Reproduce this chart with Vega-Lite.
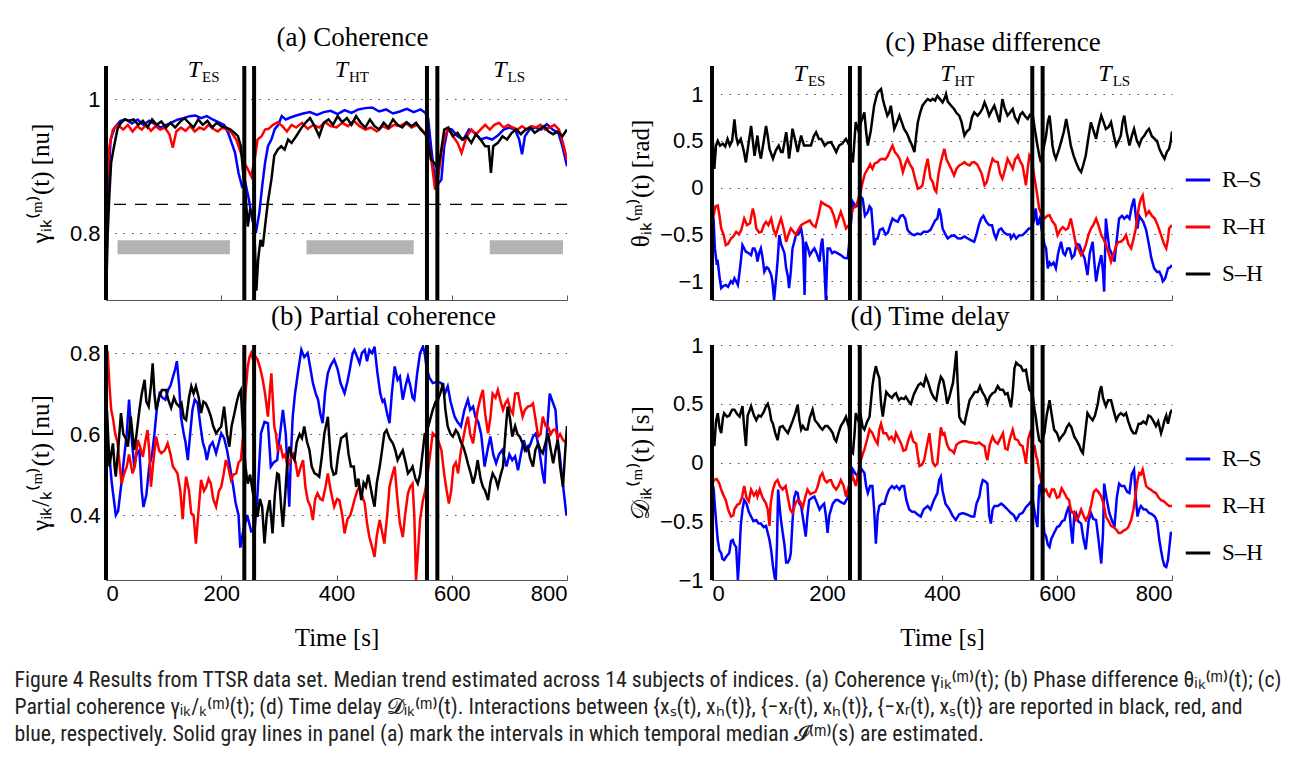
{
"$schema":"https://vega.github.io/schema/vega-lite/v6.json",
"background":"white",
"padding":{"left":14,"top":24,"right":4,"bottom":4},
"config":{
 "view":{"stroke":null},
 "axis":{"labelFont":"Liberation Sans","labelFontSize":22,"labelColor":"#000","titleFont":"Liberation Serif","titleFontSize":25,"titleFontWeight":"normal","titleColor":"#000","domainColor":"#555","tickColor":"#555"},
 "title":{"font":"Liberation Serif","fontSize":27,"fontWeight":"normal","color":"#000"}
},
"title":{"text":[
 "Figure 4 Results from TTSR data set. Median trend estimated across 14 subjects of indices. (a) Coherence γᵢₖ⁽ᵐ⁾(t); (b) Phase difference θᵢₖ⁽ᵐ⁾(t); (c)",
 "Partial coherence γᵢₖ/ₖ⁽ᵐ⁾(t); (d) Time delay 𝓓ᵢₖ⁽ᵐ⁾(t). Interactions between {xₛ(t), xₕ(t)}, {−xᵣ(t), xₕ(t)}, {−xᵣ(t), xₛ(t)} are reported in black, red, and",
 "blue, respectively. Solid gray lines in panel (a) mark the intervals in which temporal median 𝓘⁽ᵐ⁾(s) are estimated."],
 "orient":"bottom","anchor":"start","frame":"bounds","font":"Liberation Sans Narrow, Roboto Condensed, Liberation Sans","fontSize":21.8,"fontWeight":"normal","lineHeight":27,"offset":20,"dx":-14,"color":"#222"},
"datasets":{
"V":[{"t":0},{"t":240},{"t":257},{"t":557},{"t":575}],
"bars":[{"t":20,"t2":215},{"t":348,"t2":534},{"t":666,"t2":793}],
"T":[{"t":165,"lab":"ES"},{"t":420,"lab":"HT"},{"t":695,"lab":"LS"}],
"A":[
{"t":0,"s":"b","v":0.70},{"t":3,"s":"b","v":0.86},{"t":8,"s":"b","v":0.94},{"t":15,"s":"b","v":0.958},{"t":25,"s":"b","v":0.968},{"t":35,"s":"b","v":0.97},{"t":45,"s":"b","v":0.964},{"t":55,"s":"b","v":0.97},{"t":65,"s":"b","v":0.962},{"t":75,"s":"b","v":0.968},{"t":85,"s":"b","v":0.963},{"t":95,"s":"b","v":0.958},{"t":105,"s":"b","v":0.962},{"t":115,"s":"b","v":0.966},{"t":125,"s":"b","v":0.97},{"t":135,"s":"b","v":0.972},{"t":145,"s":"b","v":0.975},{"t":155,"s":"b","v":0.976},{"t":165,"s":"b","v":0.972},{"t":175,"s":"b","v":0.975},{"t":185,"s":"b","v":0.97},{"t":195,"s":"b","v":0.966},{"t":205,"s":"b","v":0.962},{"t":212,"s":"b","v":0.95},{"t":218,"s":"b","v":0.935},{"t":224,"s":"b","v":0.92},{"t":230,"s":"b","v":0.89},{"t":236,"s":"b","v":0.87},{"t":242,"s":"b","v":0.875},{"t":248,"s":"b","v":0.85},{"t":254,"s":"b","v":0.82},{"t":260,"s":"b","v":0.80},{"t":266,"s":"b","v":0.83},{"t":271,"s":"b","v":0.87},{"t":276,"s":"b","v":0.905},{"t":281,"s":"b","v":0.93},{"t":287,"s":"b","v":0.94},{"t":293,"s":"b","v":0.956},{"t":299,"s":"b","v":0.962},{"t":305,"s":"b","v":0.975},{"t":312,"s":"b","v":0.97},{"t":320,"s":"b","v":0.973},{"t":330,"s":"b","v":0.976},{"t":342,"s":"b","v":0.979},{"t":354,"s":"b","v":0.981},{"t":366,"s":"b","v":0.977},{"t":378,"s":"b","v":0.981},{"t":390,"s":"b","v":0.983},{"t":402,"s":"b","v":0.978},{"t":414,"s":"b","v":0.984},{"t":426,"s":"b","v":0.98},{"t":438,"s":"b","v":0.985},{"t":450,"s":"b","v":0.987},{"t":462,"s":"b","v":0.988},{"t":474,"s":"b","v":0.982},{"t":486,"s":"b","v":0.985},{"t":498,"s":"b","v":0.979},{"t":510,"s":"b","v":0.982},{"t":522,"s":"b","v":0.986},{"t":534,"s":"b","v":0.981},{"t":546,"s":"b","v":0.985},{"t":554,"s":"b","v":0.98},{"t":559,"s":"b","v":0.972},{"t":564,"s":"b","v":0.93},{"t":570,"s":"b","v":0.885},{"t":576,"s":"b","v":0.873},{"t":582,"s":"b","v":0.88},{"t":587,"s":"b","v":0.93},{"t":593,"s":"b","v":0.956},{"t":600,"s":"b","v":0.955},{"t":610,"s":"b","v":0.945},{"t":620,"s":"b","v":0.94},{"t":630,"s":"b","v":0.955},{"t":640,"s":"b","v":0.95},{"t":650,"s":"b","v":0.94},{"t":660,"s":"b","v":0.943},{"t":670,"s":"b","v":0.94},{"t":680,"s":"b","v":0.946},{"t":690,"s":"b","v":0.955},{"t":700,"s":"b","v":0.958},{"t":710,"s":"b","v":0.955},{"t":717,"s":"b","v":0.94},{"t":722,"s":"b","v":0.918},{"t":727,"s":"b","v":0.945},{"t":735,"s":"b","v":0.955},{"t":745,"s":"b","v":0.958},{"t":755,"s":"b","v":0.955},{"t":765,"s":"b","v":0.963},{"t":775,"s":"b","v":0.955},{"t":785,"s":"b","v":0.95},{"t":792,"s":"b","v":0.93},{"t":800,"s":"b","v":0.90},
{"t":0,"s":"r","v":0.70},{"t":2,"s":"r","v":0.88},{"t":6,"s":"r","v":0.93},{"t":12,"s":"r","v":0.955},{"t":20,"s":"r","v":0.962},{"t":30,"s":"r","v":0.955},{"t":38,"s":"r","v":0.962},{"t":46,"s":"r","v":0.952},{"t":54,"s":"r","v":0.96},{"t":62,"s":"r","v":0.955},{"t":70,"s":"r","v":0.962},{"t":78,"s":"r","v":0.953},{"t":86,"s":"r","v":0.96},{"t":94,"s":"r","v":0.955},{"t":102,"s":"r","v":0.958},{"t":110,"s":"r","v":0.948},{"t":116,"s":"r","v":0.928},{"t":122,"s":"r","v":0.952},{"t":130,"s":"r","v":0.958},{"t":138,"s":"r","v":0.953},{"t":146,"s":"r","v":0.96},{"t":154,"s":"r","v":0.952},{"t":162,"s":"r","v":0.958},{"t":170,"s":"r","v":0.955},{"t":178,"s":"r","v":0.962},{"t":186,"s":"r","v":0.956},{"t":194,"s":"r","v":0.952},{"t":202,"s":"r","v":0.958},{"t":210,"s":"r","v":0.955},{"t":218,"s":"r","v":0.95},{"t":226,"s":"r","v":0.94},{"t":234,"s":"r","v":0.92},{"t":240,"s":"r","v":0.905},{"t":246,"s":"r","v":0.896},{"t":252,"s":"r","v":0.885},{"t":258,"s":"r","v":0.91},{"t":263,"s":"r","v":0.94},{"t":270,"s":"r","v":0.945},{"t":276,"s":"r","v":0.955},{"t":282,"s":"r","v":0.956},{"t":290,"s":"r","v":0.962},{"t":298,"s":"r","v":0.966},{"t":306,"s":"r","v":0.96},{"t":314,"s":"r","v":0.952},{"t":322,"s":"r","v":0.962},{"t":330,"s":"r","v":0.958},{"t":340,"s":"r","v":0.965},{"t":350,"s":"r","v":0.956},{"t":360,"s":"r","v":0.962},{"t":370,"s":"r","v":0.958},{"t":380,"s":"r","v":0.966},{"t":390,"s":"r","v":0.96},{"t":400,"s":"r","v":0.958},{"t":410,"s":"r","v":0.965},{"t":420,"s":"r","v":0.96},{"t":430,"s":"r","v":0.968},{"t":440,"s":"r","v":0.96},{"t":450,"s":"r","v":0.955},{"t":460,"s":"r","v":0.958},{"t":470,"s":"r","v":0.952},{"t":480,"s":"r","v":0.96},{"t":490,"s":"r","v":0.956},{"t":500,"s":"r","v":0.962},{"t":510,"s":"r","v":0.96},{"t":520,"s":"r","v":0.965},{"t":530,"s":"r","v":0.958},{"t":540,"s":"r","v":0.962},{"t":548,"s":"r","v":0.955},{"t":554,"s":"r","v":0.948},{"t":560,"s":"r","v":0.935},{"t":566,"s":"r","v":0.9},{"t":571,"s":"r","v":0.865},{"t":576,"s":"r","v":0.88},{"t":582,"s":"r","v":0.92},{"t":588,"s":"r","v":0.945},{"t":594,"s":"r","v":0.956},{"t":602,"s":"r","v":0.945},{"t":610,"s":"r","v":0.935},{"t":617,"s":"r","v":0.92},{"t":626,"s":"r","v":0.945},{"t":634,"s":"r","v":0.955},{"t":642,"s":"r","v":0.948},{"t":650,"s":"r","v":0.955},{"t":658,"s":"r","v":0.962},{"t":666,"s":"r","v":0.955},{"t":674,"s":"r","v":0.962},{"t":682,"s":"r","v":0.965},{"t":690,"s":"r","v":0.958},{"t":698,"s":"r","v":0.962},{"t":706,"s":"r","v":0.958},{"t":714,"s":"r","v":0.955},{"t":722,"s":"r","v":0.96},{"t":730,"s":"r","v":0.955},{"t":738,"s":"r","v":0.96},{"t":746,"s":"r","v":0.958},{"t":754,"s":"r","v":0.962},{"t":762,"s":"r","v":0.955},{"t":770,"s":"r","v":0.958},{"t":778,"s":"r","v":0.962},{"t":786,"s":"r","v":0.955},{"t":793,"s":"r","v":0.935},{"t":800,"s":"r","v":0.91},
{"t":0,"s":"k","v":0.70},{"t":3,"s":"k","v":0.80},{"t":6,"s":"k","v":0.86},{"t":9,"s":"k","v":0.906},{"t":14,"s":"k","v":0.93},{"t":20,"s":"k","v":0.956},{"t":26,"s":"k","v":0.965},{"t":32,"s":"k","v":0.97},{"t":40,"s":"k","v":0.968},{"t":48,"s":"k","v":0.97},{"t":56,"s":"k","v":0.962},{"t":64,"s":"k","v":0.968},{"t":72,"s":"k","v":0.958},{"t":80,"s":"k","v":0.97},{"t":88,"s":"k","v":0.962},{"t":96,"s":"k","v":0.967},{"t":104,"s":"k","v":0.958},{"t":112,"s":"k","v":0.965},{"t":120,"s":"k","v":0.958},{"t":128,"s":"k","v":0.966},{"t":136,"s":"k","v":0.972},{"t":144,"s":"k","v":0.965},{"t":152,"s":"k","v":0.958},{"t":160,"s":"k","v":0.97},{"t":168,"s":"k","v":0.962},{"t":176,"s":"k","v":0.968},{"t":184,"s":"k","v":0.958},{"t":192,"s":"k","v":0.965},{"t":200,"s":"k","v":0.96},{"t":208,"s":"k","v":0.958},{"t":216,"s":"k","v":0.955},{"t":223,"s":"k","v":0.95},{"t":229,"s":"k","v":0.945},{"t":234,"s":"k","v":0.93},{"t":238,"s":"k","v":0.89},{"t":242,"s":"k","v":0.86},{"t":246,"s":"k","v":0.81},{"t":250,"s":"k","v":0.835},{"t":254,"s":"k","v":0.83},{"t":258,"s":"k","v":0.79},{"t":261,"s":"k","v":0.714},{"t":264,"s":"k","v":0.76},{"t":268,"s":"k","v":0.79},{"t":272,"s":"k","v":0.78},{"t":276,"s":"k","v":0.81},{"t":281,"s":"k","v":0.847},{"t":287,"s":"k","v":0.88},{"t":292,"s":"k","v":0.916},{"t":298,"s":"k","v":0.925},{"t":304,"s":"k","v":0.93},{"t":310,"s":"k","v":0.925},{"t":316,"s":"k","v":0.94},{"t":322,"s":"k","v":0.935},{"t":330,"s":"k","v":0.945},{"t":338,"s":"k","v":0.956},{"t":346,"s":"k","v":0.965},{"t":354,"s":"k","v":0.972},{"t":362,"s":"k","v":0.96},{"t":370,"s":"k","v":0.945},{"t":378,"s":"k","v":0.965},{"t":386,"s":"k","v":0.97},{"t":394,"s":"k","v":0.962},{"t":402,"s":"k","v":0.975},{"t":410,"s":"k","v":0.966},{"t":418,"s":"k","v":0.972},{"t":426,"s":"k","v":0.962},{"t":434,"s":"k","v":0.975},{"t":442,"s":"k","v":0.965},{"t":450,"s":"k","v":0.958},{"t":458,"s":"k","v":0.97},{"t":466,"s":"k","v":0.96},{"t":474,"s":"k","v":0.955},{"t":482,"s":"k","v":0.965},{"t":490,"s":"k","v":0.958},{"t":498,"s":"k","v":0.97},{"t":506,"s":"k","v":0.962},{"t":514,"s":"k","v":0.958},{"t":522,"s":"k","v":0.966},{"t":530,"s":"k","v":0.96},{"t":538,"s":"k","v":0.965},{"t":546,"s":"k","v":0.955},{"t":552,"s":"k","v":0.95},{"t":558,"s":"k","v":0.945},{"t":564,"s":"k","v":0.91},{"t":570,"s":"k","v":0.905},{"t":576,"s":"k","v":0.896},{"t":581,"s":"k","v":0.92},{"t":587,"s":"k","v":0.955},{"t":594,"s":"k","v":0.958},{"t":602,"s":"k","v":0.945},{"t":610,"s":"k","v":0.95},{"t":618,"s":"k","v":0.94},{"t":626,"s":"k","v":0.945},{"t":634,"s":"k","v":0.935},{"t":642,"s":"k","v":0.948},{"t":650,"s":"k","v":0.94},{"t":658,"s":"k","v":0.93},{"t":664,"s":"k","v":0.93},{"t":668,"s":"k","v":0.89},{"t":672,"s":"k","v":0.93},{"t":680,"s":"k","v":0.935},{"t":688,"s":"k","v":0.945},{"t":696,"s":"k","v":0.94},{"t":704,"s":"k","v":0.95},{"t":712,"s":"k","v":0.955},{"t":720,"s":"k","v":0.948},{"t":728,"s":"k","v":0.955},{"t":736,"s":"k","v":0.958},{"t":744,"s":"k","v":0.95},{"t":752,"s":"k","v":0.955},{"t":760,"s":"k","v":0.96},{"t":768,"s":"k","v":0.952},{"t":776,"s":"k","v":0.948},{"t":784,"s":"k","v":0.952},{"t":792,"s":"k","v":0.945},{"t":800,"s":"k","v":0.955}
],
"B":[
{"t":0,"s":"b","v":0.6},{"t":5,"s":"b","v":0.56},{"t":10,"s":"b","v":0.48},{"t":17,"s":"b","v":0.4},{"t":21,"s":"b","v":0.41},{"t":26,"s":"b","v":0.47},{"t":32,"s":"b","v":0.55},{"t":36,"s":"b","v":0.6},{"t":40,"s":"b","v":0.685},{"t":44,"s":"b","v":0.6},{"t":49,"s":"b","v":0.52},{"t":53,"s":"b","v":0.55},{"t":58,"s":"b","v":0.56},{"t":62,"s":"b","v":0.46},{"t":65,"s":"b","v":0.42},{"t":70,"s":"b","v":0.45},{"t":75,"s":"b","v":0.52},{"t":80,"s":"b","v":0.55},{"t":84,"s":"b","v":0.6},{"t":88,"s":"b","v":0.66},{"t":93,"s":"b","v":0.7},{"t":98,"s":"b","v":0.69},{"t":103,"s":"b","v":0.685},{"t":108,"s":"b","v":0.71},{"t":112,"s":"b","v":0.72},{"t":116,"s":"b","v":0.74},{"t":120,"s":"b","v":0.76},{"t":123,"s":"b","v":0.78},{"t":127,"s":"b","v":0.72},{"t":130,"s":"b","v":0.643},{"t":135,"s":"b","v":0.6},{"t":138,"s":"b","v":0.58},{"t":142,"s":"b","v":0.536},{"t":146,"s":"b","v":0.6},{"t":150,"s":"b","v":0.66},{"t":154,"s":"b","v":0.685},{"t":159,"s":"b","v":0.676},{"t":164,"s":"b","v":0.62},{"t":168,"s":"b","v":0.58},{"t":172,"s":"b","v":0.561},{"t":175,"s":"b","v":0.536},{"t":180,"s":"b","v":0.57},{"t":185,"s":"b","v":0.58},{"t":191,"s":"b","v":0.553},{"t":196,"s":"b","v":0.58},{"t":200,"s":"b","v":0.602},{"t":205,"s":"b","v":0.59},{"t":210,"s":"b","v":0.561},{"t":215,"s":"b","v":0.52},{"t":220,"s":"b","v":0.478},{"t":225,"s":"b","v":0.43},{"t":230,"s":"b","v":0.4},{"t":233,"s":"b","v":0.32},{"t":238,"s":"b","v":0.36},{"t":245,"s":"b","v":0.4},{"t":252,"s":"b","v":0.36},{"t":258,"s":"b","v":0.363},{"t":263,"s":"b","v":0.454},{"t":269,"s":"b","v":0.602},{"t":275,"s":"b","v":0.63},{"t":281,"s":"b","v":0.627},{"t":286,"s":"b","v":0.52},{"t":291,"s":"b","v":0.53},{"t":297,"s":"b","v":0.536},{"t":302,"s":"b","v":0.6},{"t":307,"s":"b","v":0.66},{"t":312,"s":"b","v":0.6},{"t":318,"s":"b","v":0.421},{"t":321,"s":"b","v":0.55},{"t":324,"s":"b","v":0.643},{"t":328,"s":"b","v":0.7},{"t":333,"s":"b","v":0.751},{"t":339,"s":"b","v":0.808},{"t":344,"s":"b","v":0.79},{"t":350,"s":"b","v":0.8},{"t":355,"s":"b","v":0.76},{"t":359,"s":"b","v":0.726},{"t":364,"s":"b","v":0.7},{"t":368,"s":"b","v":0.685},{"t":372,"s":"b","v":0.65},{"t":376,"s":"b","v":0.627},{"t":380,"s":"b","v":0.7},{"t":385,"s":"b","v":0.751},{"t":390,"s":"b","v":0.77},{"t":396,"s":"b","v":0.784},{"t":402,"s":"b","v":0.76},{"t":407,"s":"b","v":0.726},{"t":414,"s":"b","v":0.701},{"t":419,"s":"b","v":0.73},{"t":423,"s":"b","v":0.759},{"t":428,"s":"b","v":0.8},{"t":431,"s":"b","v":0.808},{"t":436,"s":"b","v":0.79},{"t":440,"s":"b","v":0.775},{"t":444,"s":"b","v":0.8},{"t":449,"s":"b","v":0.808},{"t":453,"s":"b","v":0.78},{"t":457,"s":"b","v":0.808},{"t":462,"s":"b","v":0.8},{"t":466,"s":"b","v":0.816},{"t":471,"s":"b","v":0.751},{"t":476,"s":"b","v":0.7},{"t":480,"s":"b","v":0.68},{"t":483,"s":"b","v":0.685},{"t":488,"s":"b","v":0.65},{"t":492,"s":"b","v":0.627},{"t":496,"s":"b","v":0.7},{"t":501,"s":"b","v":0.767},{"t":506,"s":"b","v":0.734},{"t":510,"s":"b","v":0.742},{"t":515,"s":"b","v":0.685},{"t":520,"s":"b","v":0.72},{"t":524,"s":"b","v":0.742},{"t":528,"s":"b","v":0.72},{"t":532,"s":"b","v":0.69},{"t":535,"s":"b","v":0.685},{"t":540,"s":"b","v":0.75},{"t":545,"s":"b","v":0.8},{"t":550,"s":"b","v":0.816},{"t":553,"s":"b","v":0.8},{"t":556,"s":"b","v":0.767},{"t":561,"s":"b","v":0.74},{"t":567,"s":"b","v":0.726},{"t":575,"s":"b","v":0.73},{"t":582,"s":"b","v":0.726},{"t":588,"s":"b","v":0.7},{"t":593,"s":"b","v":0.718},{"t":598,"s":"b","v":0.68},{"t":605,"s":"b","v":0.643},{"t":610,"s":"b","v":0.63},{"t":616,"s":"b","v":0.619},{"t":622,"s":"b","v":0.66},{"t":628,"s":"b","v":0.685},{"t":632,"s":"b","v":0.66},{"t":637,"s":"b","v":0.668},{"t":641,"s":"b","v":0.643},{"t":646,"s":"b","v":0.63},{"t":651,"s":"b","v":0.6},{"t":657,"s":"b","v":0.52},{"t":662,"s":"b","v":0.56},{"t":667,"s":"b","v":0.594},{"t":672,"s":"b","v":0.55},{"t":677,"s":"b","v":0.528},{"t":682,"s":"b","v":0.55},{"t":688,"s":"b","v":0.561},{"t":695,"s":"b","v":0.52},{"t":700,"s":"b","v":0.55},{"t":705,"s":"b","v":0.536},{"t":710,"s":"b","v":0.545},{"t":715,"s":"b","v":0.511},{"t":720,"s":"b","v":0.55},{"t":725,"s":"b","v":0.585},{"t":730,"s":"b","v":0.56},{"t":735,"s":"b","v":0.57},{"t":741,"s":"b","v":0.594},{"t":746,"s":"b","v":0.602},{"t":752,"s":"b","v":0.56},{"t":758,"s":"b","v":0.5},{"t":761,"s":"b","v":0.478},{"t":765,"s":"b","v":0.6},{"t":770,"s":"b","v":0.7},{"t":775,"s":"b","v":0.68},{"t":780,"s":"b","v":0.66},{"t":784,"s":"b","v":0.58},{"t":787,"s":"b","v":0.553},{"t":791,"s":"b","v":0.5},{"t":795,"s":"b","v":0.45},{"t":799,"s":"b","v":0.4},
{"t":0,"s":"r","v":0.82},{"t":3,"s":"r","v":0.8},{"t":6,"s":"r","v":0.72},{"t":9,"s":"r","v":0.66},{"t":12,"s":"r","v":0.64},{"t":16,"s":"r","v":0.6},{"t":20,"s":"r","v":0.58},{"t":24,"s":"r","v":0.52},{"t":27,"s":"r","v":0.478},{"t":31,"s":"r","v":0.5},{"t":36,"s":"r","v":0.52},{"t":40,"s":"r","v":0.55},{"t":46,"s":"r","v":0.503},{"t":50,"s":"r","v":0.52},{"t":55,"s":"r","v":0.586},{"t":59,"s":"r","v":0.57},{"t":64,"s":"r","v":0.544},{"t":68,"s":"r","v":0.58},{"t":72,"s":"r","v":0.61},{"t":75,"s":"r","v":0.56},{"t":78,"s":"r","v":0.47},{"t":82,"s":"r","v":0.53},{"t":87,"s":"r","v":0.594},{"t":92,"s":"r","v":0.56},{"t":96,"s":"r","v":0.553},{"t":102,"s":"r","v":0.56},{"t":107,"s":"r","v":0.577},{"t":112,"s":"r","v":0.55},{"t":116,"s":"r","v":0.52},{"t":121,"s":"r","v":0.51},{"t":124,"s":"r","v":0.503},{"t":129,"s":"r","v":0.46},{"t":133,"s":"r","v":0.39},{"t":136,"s":"r","v":0.45},{"t":139,"s":"r","v":0.495},{"t":144,"s":"r","v":0.46},{"t":148,"s":"r","v":0.404},{"t":152,"s":"r","v":0.4},{"t":156,"s":"r","v":0.33},{"t":160,"s":"r","v":0.4},{"t":165,"s":"r","v":0.487},{"t":170,"s":"r","v":0.46},{"t":174,"s":"r","v":0.47},{"t":178,"s":"r","v":0.49},{"t":182,"s":"r","v":0.478},{"t":186,"s":"r","v":0.44},{"t":191,"s":"r","v":0.421},{"t":196,"s":"r","v":0.46},{"t":200,"s":"r","v":0.47},{"t":204,"s":"r","v":0.5},{"t":208,"s":"r","v":0.536},{"t":212,"s":"r","v":0.52},{"t":217,"s":"r","v":0.487},{"t":221,"s":"r","v":0.5},{"t":226,"s":"r","v":0.503},{"t":230,"s":"r","v":0.53},{"t":234,"s":"r","v":0.536},{"t":238,"s":"r","v":0.6},{"t":242,"s":"r","v":0.7},{"t":246,"s":"r","v":0.767},{"t":249,"s":"r","v":0.79},{"t":252,"s":"r","v":0.8},{"t":256,"s":"r","v":0.78},{"t":260,"s":"r","v":0.79},{"t":263,"s":"r","v":0.784},{"t":268,"s":"r","v":0.76},{"t":272,"s":"r","v":0.734},{"t":276,"s":"r","v":0.7},{"t":281,"s":"r","v":0.643},{"t":284,"s":"r","v":0.7},{"t":287,"s":"r","v":0.75},{"t":292,"s":"r","v":0.619},{"t":295,"s":"r","v":0.6},{"t":298,"s":"r","v":0.561},{"t":303,"s":"r","v":0.57},{"t":307,"s":"r","v":0.544},{"t":311,"s":"r","v":0.55},{"t":315,"s":"r","v":0.52},{"t":320,"s":"r","v":0.536},{"t":325,"s":"r","v":0.55},{"t":329,"s":"r","v":0.53},{"t":333,"s":"r","v":0.495},{"t":338,"s":"r","v":0.52},{"t":342,"s":"r","v":0.536},{"t":346,"s":"r","v":0.47},{"t":350,"s":"r","v":0.437},{"t":355,"s":"r","v":0.42},{"t":359,"s":"r","v":0.388},{"t":363,"s":"r","v":0.44},{"t":367,"s":"r","v":0.454},{"t":372,"s":"r","v":0.44},{"t":376,"s":"r","v":0.437},{"t":381,"s":"r","v":0.47},{"t":385,"s":"r","v":0.503},{"t":390,"s":"r","v":0.46},{"t":396,"s":"r","v":0.421},{"t":401,"s":"r","v":0.44},{"t":405,"s":"r","v":0.437},{"t":410,"s":"r","v":0.4},{"t":414,"s":"r","v":0.355},{"t":419,"s":"r","v":0.39},{"t":424,"s":"r","v":0.4},{"t":428,"s":"r","v":0.42},{"t":431,"s":"r","v":0.437},{"t":436,"s":"r","v":0.46},{"t":440,"s":"r","v":0.47},{"t":444,"s":"r","v":0.45},{"t":449,"s":"r","v":0.429},{"t":453,"s":"r","v":0.38},{"t":457,"s":"r","v":0.346},{"t":462,"s":"r","v":0.32},{"t":466,"s":"r","v":0.297},{"t":470,"s":"r","v":0.35},{"t":475,"s":"r","v":0.388},{"t":479,"s":"r","v":0.36},{"t":483,"s":"r","v":0.33},{"t":488,"s":"r","v":0.4},{"t":492,"s":"r","v":0.47},{"t":497,"s":"r","v":0.5},{"t":501,"s":"r","v":0.52},{"t":505,"s":"r","v":0.45},{"t":510,"s":"r","v":0.38},{"t":515,"s":"r","v":0.346},{"t":519,"s":"r","v":0.4},{"t":524,"s":"r","v":0.454},{"t":528,"s":"r","v":0.47},{"t":532,"s":"r","v":0.478},{"t":535,"s":"r","v":0.4},{"t":538,"s":"r","v":0.24},{"t":541,"s":"r","v":0.3},{"t":545,"s":"r","v":0.388},{"t":550,"s":"r","v":0.437},{"t":554,"s":"r","v":0.46},{"t":558,"s":"r","v":0.5},{"t":567,"s":"r","v":0.602},{"t":575,"s":"r","v":0.59},{"t":582,"s":"r","v":0.561},{"t":587,"s":"r","v":0.5},{"t":591,"s":"r","v":0.462},{"t":595,"s":"r","v":0.429},{"t":599,"s":"r","v":0.46},{"t":603,"s":"r","v":0.52},{"t":607,"s":"r","v":0.53},{"t":611,"s":"r","v":0.503},{"t":616,"s":"r","v":0.56},{"t":620,"s":"r","v":0.59},{"t":624,"s":"r","v":0.62},{"t":628,"s":"r","v":0.643},{"t":632,"s":"r","v":0.6},{"t":637,"s":"r","v":0.577},{"t":641,"s":"r","v":0.62},{"t":645,"s":"r","v":0.66},{"t":650,"s":"r","v":0.69},{"t":654,"s":"r","v":0.709},{"t":658,"s":"r","v":0.65},{"t":663,"s":"r","v":0.602},{"t":667,"s":"r","v":0.64},{"t":671,"s":"r","v":0.7},{"t":676,"s":"r","v":0.69},{"t":680,"s":"r","v":0.709},{"t":685,"s":"r","v":0.68},{"t":689,"s":"r","v":0.66},{"t":693,"s":"r","v":0.676},{"t":697,"s":"r","v":0.685},{"t":702,"s":"r","v":0.66},{"t":706,"s":"r","v":0.65},{"t":710,"s":"r","v":0.7},{"t":715,"s":"r","v":0.701},{"t":719,"s":"r","v":0.67},{"t":723,"s":"r","v":0.643},{"t":727,"s":"r","v":0.66},{"t":732,"s":"r","v":0.668},{"t":737,"s":"r","v":0.67},{"t":741,"s":"r","v":0.676},{"t":745,"s":"r","v":0.64},{"t":750,"s":"r","v":0.594},{"t":754,"s":"r","v":0.6},{"t":758,"s":"r","v":0.643},{"t":763,"s":"r","v":0.62},{"t":767,"s":"r","v":0.619},{"t":772,"s":"r","v":0.6},{"t":776,"s":"r","v":0.61},{"t":780,"s":"r","v":0.612},{"t":784,"s":"r","v":0.59},{"t":788,"s":"r","v":0.6},{"t":793,"s":"r","v":0.586},{"t":797,"s":"r","v":0.58},{"t":800,"s":"r","v":0.577},
{"t":0,"s":"k","v":0.65},{"t":2,"s":"k","v":0.652},{"t":6,"s":"k","v":0.52},{"t":9,"s":"k","v":0.55},{"t":12,"s":"k","v":0.577},{"t":15,"s":"k","v":0.52},{"t":17,"s":"k","v":0.495},{"t":21,"s":"k","v":0.56},{"t":26,"s":"k","v":0.652},{"t":30,"s":"k","v":0.6},{"t":34,"s":"k","v":0.59},{"t":38,"s":"k","v":0.569},{"t":43,"s":"k","v":0.643},{"t":46,"s":"k","v":0.6},{"t":49,"s":"k","v":0.561},{"t":53,"s":"k","v":0.6},{"t":58,"s":"k","v":0.66},{"t":62,"s":"k","v":0.7},{"t":67,"s":"k","v":0.734},{"t":70,"s":"k","v":0.68},{"t":74,"s":"k","v":0.668},{"t":78,"s":"k","v":0.72},{"t":81,"s":"k","v":0.775},{"t":84,"s":"k","v":0.7},{"t":87,"s":"k","v":0.66},{"t":92,"s":"k","v":0.69},{"t":97,"s":"k","v":0.709},{"t":104,"s":"k","v":0.709},{"t":108,"s":"k","v":0.685},{"t":113,"s":"k","v":0.665},{"t":118,"s":"k","v":0.69},{"t":122,"s":"k","v":0.676},{"t":127,"s":"k","v":0.668},{"t":131,"s":"k","v":0.676},{"t":135,"s":"k","v":0.64},{"t":139,"s":"k","v":0.635},{"t":144,"s":"k","v":0.69},{"t":148,"s":"k","v":0.718},{"t":152,"s":"k","v":0.7},{"t":156,"s":"k","v":0.718},{"t":161,"s":"k","v":0.69},{"t":165,"s":"k","v":0.652},{"t":169,"s":"k","v":0.68},{"t":173,"s":"k","v":0.676},{"t":178,"s":"k","v":0.66},{"t":182,"s":"k","v":0.643},{"t":186,"s":"k","v":0.62},{"t":191,"s":"k","v":0.602},{"t":195,"s":"k","v":0.61},{"t":200,"s":"k","v":0.619},{"t":205,"s":"k","v":0.668},{"t":210,"s":"k","v":0.6},{"t":214,"s":"k","v":0.569},{"t":218,"s":"k","v":0.62},{"t":223,"s":"k","v":0.652},{"t":227,"s":"k","v":0.68},{"t":231,"s":"k","v":0.701},{"t":234,"s":"k","v":0.709},{"t":238,"s":"k","v":0.6},{"t":242,"s":"k","v":0.52},{"t":246,"s":"k","v":0.478},{"t":250,"s":"k","v":0.5},{"t":255,"s":"k","v":0.454},{"t":259,"s":"k","v":0.43},{"t":263,"s":"k","v":0.396},{"t":267,"s":"k","v":0.44},{"t":271,"s":"k","v":0.42},{"t":275,"s":"k","v":0.33},{"t":279,"s":"k","v":0.4},{"t":284,"s":"k","v":0.437},{"t":289,"s":"k","v":0.355},{"t":293,"s":"k","v":0.45},{"t":297,"s":"k","v":0.503},{"t":300,"s":"k","v":0.5},{"t":304,"s":"k","v":0.42},{"t":307,"s":"k","v":0.371},{"t":311,"s":"k","v":0.45},{"t":315,"s":"k","v":0.54},{"t":318,"s":"k","v":0.569},{"t":322,"s":"k","v":0.55},{"t":327,"s":"k","v":0.536},{"t":331,"s":"k","v":0.58},{"t":336,"s":"k","v":0.6},{"t":340,"s":"k","v":0.59},{"t":344,"s":"k","v":0.619},{"t":349,"s":"k","v":0.58},{"t":353,"s":"k","v":0.561},{"t":357,"s":"k","v":0.52},{"t":362,"s":"k","v":0.503},{"t":366,"s":"k","v":0.5},{"t":370,"s":"k","v":0.495},{"t":375,"s":"k","v":0.55},{"t":379,"s":"k","v":0.602},{"t":385,"s":"k","v":0.643},{"t":388,"s":"k","v":0.58},{"t":391,"s":"k","v":0.52},{"t":395,"s":"k","v":0.5},{"t":399,"s":"k","v":0.503},{"t":403,"s":"k","v":0.55},{"t":408,"s":"k","v":0.59},{"t":412,"s":"k","v":0.594},{"t":417,"s":"k","v":0.6},{"t":421,"s":"k","v":0.55},{"t":425,"s":"k","v":0.52},{"t":430,"s":"k","v":0.52},{"t":434,"s":"k","v":0.47},{"t":438,"s":"k","v":0.49},{"t":443,"s":"k","v":0.437},{"t":447,"s":"k","v":0.48},{"t":451,"s":"k","v":0.47},{"t":455,"s":"k","v":0.5},{"t":460,"s":"k","v":0.462},{"t":463,"s":"k","v":0.44},{"t":466,"s":"k","v":0.421},{"t":470,"s":"k","v":0.48},{"t":475,"s":"k","v":0.52},{"t":479,"s":"k","v":0.56},{"t":483,"s":"k","v":0.602},{"t":487,"s":"k","v":0.61},{"t":492,"s":"k","v":0.59},{"t":498,"s":"k","v":0.577},{"t":502,"s":"k","v":0.56},{"t":506,"s":"k","v":0.536},{"t":511,"s":"k","v":0.55},{"t":515,"s":"k","v":0.56},{"t":520,"s":"k","v":0.53},{"t":524,"s":"k","v":0.503},{"t":528,"s":"k","v":0.51},{"t":532,"s":"k","v":0.52},{"t":537,"s":"k","v":0.49},{"t":541,"s":"k","v":0.478},{"t":545,"s":"k","v":0.5},{"t":550,"s":"k","v":0.561},{"t":553,"s":"k","v":0.6},{"t":556,"s":"k","v":0.602},{"t":567,"s":"k","v":0.66},{"t":572,"s":"k","v":0.68},{"t":576,"s":"k","v":0.685},{"t":580,"s":"k","v":0.7},{"t":585,"s":"k","v":0.726},{"t":589,"s":"k","v":0.66},{"t":593,"s":"k","v":0.619},{"t":598,"s":"k","v":0.6},{"t":602,"s":"k","v":0.594},{"t":607,"s":"k","v":0.61},{"t":611,"s":"k","v":0.602},{"t":616,"s":"k","v":0.58},{"t":620,"s":"k","v":0.569},{"t":624,"s":"k","v":0.55},{"t":628,"s":"k","v":0.528},{"t":633,"s":"k","v":0.503},{"t":637,"s":"k","v":0.478},{"t":641,"s":"k","v":0.5},{"t":645,"s":"k","v":0.536},{"t":650,"s":"k","v":0.49},{"t":654,"s":"k","v":0.47},{"t":658,"s":"k","v":0.46},{"t":663,"s":"k","v":0.437},{"t":667,"s":"k","v":0.48},{"t":671,"s":"k","v":0.503},{"t":676,"s":"k","v":0.49},{"t":680,"s":"k","v":0.47},{"t":685,"s":"k","v":0.5},{"t":689,"s":"k","v":0.52},{"t":693,"s":"k","v":0.6},{"t":697,"s":"k","v":0.668},{"t":701,"s":"k","v":0.64},{"t":705,"s":"k","v":0.594},{"t":710,"s":"k","v":0.62},{"t":714,"s":"k","v":0.6},{"t":718,"s":"k","v":0.594},{"t":723,"s":"k","v":0.577},{"t":727,"s":"k","v":0.56},{"t":732,"s":"k","v":0.569},{"t":736,"s":"k","v":0.54},{"t":741,"s":"k","v":0.52},{"t":745,"s":"k","v":0.56},{"t":750,"s":"k","v":0.577},{"t":754,"s":"k","v":0.56},{"t":758,"s":"k","v":0.553},{"t":763,"s":"k","v":0.58},{"t":767,"s":"k","v":0.602},{"t":772,"s":"k","v":0.56},{"t":776,"s":"k","v":0.528},{"t":780,"s":"k","v":0.56},{"t":784,"s":"k","v":0.586},{"t":788,"s":"k","v":0.52},{"t":793,"s":"k","v":0.47},{"t":797,"s":"k","v":0.56},{"t":800,"s":"k","v":0.62}
],
"C":[
{"t":0,"s":"b","v":-0.5},{"t":2,"s":"b","v":-0.3},{"t":3,"s":"b","v":-0.365},{"t":5,"s":"b","v":-0.649},{"t":8,"s":"b","v":-0.8},{"t":10,"s":"b","v":-0.79},{"t":13,"s":"b","v":-0.95},{"t":16,"s":"b","v":-1.074},{"t":20,"s":"b","v":-1.05},{"t":24,"s":"b","v":-1.039},{"t":28,"s":"b","v":-1.06},{"t":33,"s":"b","v":-1.0},{"t":36,"s":"b","v":-1.02},{"t":39,"s":"b","v":-0.968},{"t":42,"s":"b","v":-1.0},{"t":45,"s":"b","v":-1.039},{"t":48,"s":"b","v":-0.9},{"t":50,"s":"b","v":-0.79},{"t":53,"s":"b","v":-0.613},{"t":56,"s":"b","v":-0.65},{"t":59,"s":"b","v":-0.684},{"t":64,"s":"b","v":-0.7},{"t":68,"s":"b","v":-0.72},{"t":71,"s":"b","v":-0.65},{"t":74,"s":"b","v":-0.649},{"t":77,"s":"b","v":-0.7},{"t":79,"s":"b","v":-0.79},{"t":82,"s":"b","v":-0.7},{"t":85,"s":"b","v":-0.649},{"t":88,"s":"b","v":-0.75},{"t":91,"s":"b","v":-0.897},{"t":95,"s":"b","v":-0.85},{"t":98,"s":"b","v":-0.862},{"t":103,"s":"b","v":-0.933},{"t":105,"s":"b","v":-1.0},{"t":108,"s":"b","v":-1.2},{"t":111,"s":"b","v":-1.0},{"t":114,"s":"b","v":-0.79},{"t":117,"s":"b","v":-0.507},{"t":120,"s":"b","v":-0.6},{"t":123,"s":"b","v":-0.649},{"t":126,"s":"b","v":-0.7},{"t":129,"s":"b","v":-0.862},{"t":132,"s":"b","v":-0.95},{"t":134,"s":"b","v":-1.074},{"t":137,"s":"b","v":-0.9},{"t":140,"s":"b","v":-0.649},{"t":143,"s":"b","v":-0.58},{"t":146,"s":"b","v":-0.507},{"t":150,"s":"b","v":-0.5},{"t":155,"s":"b","v":-0.436},{"t":158,"s":"b","v":-0.55},{"t":161,"s":"b","v":-1.145},{"t":163,"s":"b","v":-0.578},{"t":167,"s":"b","v":-0.65},{"t":170,"s":"b","v":-0.72},{"t":174,"s":"b","v":-0.68},{"t":178,"s":"b","v":-0.649},{"t":182,"s":"b","v":-0.7},{"t":187,"s":"b","v":-0.79},{"t":190,"s":"b","v":-0.6},{"t":192,"s":"b","v":-0.543},{"t":195,"s":"b","v":-0.8},{"t":198,"s":"b","v":-1.2},{"t":201,"s":"b","v":-0.649},{"t":205,"s":"b","v":-0.65},{"t":209,"s":"b","v":-0.7},{"t":213,"s":"b","v":-0.684},{"t":218,"s":"b","v":-0.7},{"t":224,"s":"b","v":-0.72},{"t":230,"s":"b","v":-0.75},{"t":236,"s":"b","v":-0.755},{"t":240,"s":"b","v":-0.5},{"t":245,"s":"b","v":-0.152},{"t":250,"s":"b","v":-0.2},{"t":255,"s":"b","v":-0.188},{"t":259,"s":"b","v":-0.1},{"t":262,"s":"b","v":-0.117},{"t":266,"s":"b","v":-0.3},{"t":271,"s":"b","v":-0.259},{"t":274,"s":"b","v":-0.2},{"t":277,"s":"b","v":-0.223},{"t":280,"s":"b","v":-0.45},{"t":282,"s":"b","v":-0.613},{"t":285,"s":"b","v":-0.55},{"t":288,"s":"b","v":-0.543},{"t":292,"s":"b","v":-0.45},{"t":297,"s":"b","v":-0.436},{"t":302,"s":"b","v":-0.5},{"t":306,"s":"b","v":-0.48},{"t":310,"s":"b","v":-0.4},{"t":314,"s":"b","v":-0.33},{"t":318,"s":"b","v":-0.35},{"t":323,"s":"b","v":-0.365},{"t":328,"s":"b","v":-0.3},{"t":332,"s":"b","v":-0.294},{"t":336,"s":"b","v":-0.33},{"t":340,"s":"b","v":-0.45},{"t":343,"s":"b","v":-0.472},{"t":348,"s":"b","v":-0.5},{"t":352,"s":"b","v":-0.507},{"t":357,"s":"b","v":-0.49},{"t":363,"s":"b","v":-0.5},{"t":368,"s":"b","v":-0.472},{"t":375,"s":"b","v":-0.472},{"t":380,"s":"b","v":-0.45},{"t":384,"s":"b","v":-0.401},{"t":388,"s":"b","v":-0.35},{"t":392,"s":"b","v":-0.33},{"t":395,"s":"b","v":-0.223},{"t":398,"s":"b","v":-0.3},{"t":401,"s":"b","v":-0.436},{"t":406,"s":"b","v":-0.5},{"t":410,"s":"b","v":-0.543},{"t":415,"s":"b","v":-0.52},{"t":421,"s":"b","v":-0.507},{"t":427,"s":"b","v":-0.54},{"t":433,"s":"b","v":-0.543},{"t":439,"s":"b","v":-0.52},{"t":445,"s":"b","v":-0.543},{"t":450,"s":"b","v":-0.56},{"t":456,"s":"b","v":-0.578},{"t":460,"s":"b","v":-0.5},{"t":464,"s":"b","v":-0.4},{"t":468,"s":"b","v":-0.33},{"t":472,"s":"b","v":-0.3},{"t":477,"s":"b","v":-0.365},{"t":482,"s":"b","v":-0.4},{"t":487,"s":"b","v":-0.401},{"t":491,"s":"b","v":-0.5},{"t":494,"s":"b","v":-0.543},{"t":499,"s":"b","v":-0.45},{"t":503,"s":"b","v":-0.436},{"t":508,"s":"b","v":-0.48},{"t":513,"s":"b","v":-0.5},{"t":518,"s":"b","v":-0.5},{"t":520,"s":"b","v":-0.543},{"t":525,"s":"b","v":-0.5},{"t":529,"s":"b","v":-0.543},{"t":534,"s":"b","v":-0.51},{"t":540,"s":"b","v":-0.507},{"t":546,"s":"b","v":-0.472},{"t":551,"s":"b","v":-0.436},{"t":555,"s":"b","v":-0.436},{"t":560,"s":"b","v":-0.35},{"t":563,"s":"b","v":-0.223},{"t":566,"s":"b","v":-0.4},{"t":570,"s":"b","v":-0.33},{"t":575,"s":"b","v":-0.5},{"t":578,"s":"b","v":-0.6},{"t":581,"s":"b","v":-0.65},{"t":584,"s":"b","v":-0.862},{"t":587,"s":"b","v":-0.8},{"t":590,"s":"b","v":-0.826},{"t":594,"s":"b","v":-0.8},{"t":598,"s":"b","v":-0.862},{"t":602,"s":"b","v":-0.7},{"t":607,"s":"b","v":-0.578},{"t":611,"s":"b","v":-0.7},{"t":614,"s":"b","v":-0.72},{"t":618,"s":"b","v":-0.65},{"t":622,"s":"b","v":-0.649},{"t":626,"s":"b","v":-0.75},{"t":630,"s":"b","v":-0.72},{"t":634,"s":"b","v":-0.6},{"t":639,"s":"b","v":-0.613},{"t":644,"s":"b","v":-0.7},{"t":648,"s":"b","v":-0.755},{"t":653,"s":"b","v":-0.933},{"t":657,"s":"b","v":-0.7},{"t":662,"s":"b","v":-0.578},{"t":665,"s":"b","v":-0.8},{"t":668,"s":"b","v":-1.0},{"t":672,"s":"b","v":-0.85},{"t":677,"s":"b","v":-0.72},{"t":680,"s":"b","v":-0.9},{"t":682,"s":"b","v":-1.11},{"t":685,"s":"b","v":-0.33},{"t":688,"s":"b","v":-0.5},{"t":691,"s":"b","v":-0.649},{"t":695,"s":"b","v":-0.7},{"t":700,"s":"b","v":-0.79},{"t":704,"s":"b","v":-0.55},{"t":708,"s":"b","v":-0.33},{"t":713,"s":"b","v":-0.3},{"t":717,"s":"b","v":-0.33},{"t":722,"s":"b","v":-0.3},{"t":726,"s":"b","v":-0.33},{"t":730,"s":"b","v":-0.2},{"t":734,"s":"b","v":-0.117},{"t":737,"s":"b","v":-0.3},{"t":740,"s":"b","v":-0.436},{"t":743,"s":"b","v":-0.3},{"t":746,"s":"b","v":-0.33},{"t":750,"s":"b","v":-0.365},{"t":755,"s":"b","v":-0.45},{"t":760,"s":"b","v":-0.613},{"t":764,"s":"b","v":-0.75},{"t":769,"s":"b","v":-0.862},{"t":774,"s":"b","v":-0.9},{"t":778,"s":"b","v":-0.897},{"t":782,"s":"b","v":-0.95},{"t":784,"s":"b","v":-1.0},{"t":788,"s":"b","v":-0.97},{"t":793,"s":"b","v":-0.862},{"t":797,"s":"b","v":-0.85},{"t":800,"s":"b","v":-0.826},
{"t":0,"s":"r","v":-0.33},{"t":3,"s":"r","v":-0.29},{"t":6,"s":"r","v":-0.2},{"t":10,"s":"r","v":-0.19},{"t":13,"s":"r","v":-0.3},{"t":16,"s":"r","v":-0.436},{"t":20,"s":"r","v":-0.5},{"t":24,"s":"r","v":-0.613},{"t":28,"s":"r","v":-0.6},{"t":33,"s":"r","v":-0.543},{"t":37,"s":"r","v":-0.52},{"t":42,"s":"r","v":-0.472},{"t":47,"s":"r","v":-0.5},{"t":51,"s":"r","v":-0.45},{"t":56,"s":"r","v":-0.33},{"t":61,"s":"r","v":-0.4},{"t":66,"s":"r","v":-0.38},{"t":71,"s":"r","v":-0.223},{"t":74,"s":"r","v":-0.3},{"t":77,"s":"r","v":-0.436},{"t":82,"s":"r","v":-0.48},{"t":86,"s":"r","v":-0.472},{"t":90,"s":"r","v":-0.4},{"t":94,"s":"r","v":-0.365},{"t":98,"s":"r","v":-0.4},{"t":103,"s":"r","v":-0.33},{"t":107,"s":"r","v":-0.45},{"t":111,"s":"r","v":-0.507},{"t":116,"s":"r","v":-0.4},{"t":120,"s":"r","v":-0.33},{"t":125,"s":"r","v":-0.45},{"t":129,"s":"r","v":-0.578},{"t":133,"s":"r","v":-0.5},{"t":137,"s":"r","v":-0.436},{"t":142,"s":"r","v":-0.472},{"t":146,"s":"r","v":-0.5},{"t":150,"s":"r","v":-0.45},{"t":155,"s":"r","v":-0.401},{"t":160,"s":"r","v":-0.38},{"t":165,"s":"r","v":-0.365},{"t":170,"s":"r","v":-0.35},{"t":175,"s":"r","v":-0.4},{"t":180,"s":"r","v":-0.42},{"t":185,"s":"r","v":-0.3},{"t":190,"s":"r","v":-0.152},{"t":194,"s":"r","v":-0.17},{"t":199,"s":"r","v":-0.188},{"t":203,"s":"r","v":-0.2},{"t":207,"s":"r","v":-0.223},{"t":212,"s":"r","v":-0.3},{"t":216,"s":"r","v":-0.401},{"t":220,"s":"r","v":-0.33},{"t":224,"s":"r","v":-0.259},{"t":229,"s":"r","v":-0.35},{"t":233,"s":"r","v":-0.436},{"t":238,"s":"r","v":-0.4},{"t":245,"s":"r","v":-0.223},{"t":250,"s":"r","v":-0.2},{"t":253,"s":"r","v":-0.152},{"t":258,"s":"r","v":-0.05},{"t":262,"s":"r","v":0.06},{"t":266,"s":"r","v":0.15},{"t":271,"s":"r","v":0.2},{"t":275,"s":"r","v":0.25},{"t":279,"s":"r","v":0.202},{"t":283,"s":"r","v":0.26},{"t":288,"s":"r","v":0.273},{"t":292,"s":"r","v":0.3},{"t":297,"s":"r","v":0.309},{"t":301,"s":"r","v":0.3},{"t":305,"s":"r","v":0.33},{"t":310,"s":"r","v":0.4},{"t":314,"s":"r","v":0.45},{"t":318,"s":"r","v":0.38},{"t":323,"s":"r","v":0.344},{"t":327,"s":"r","v":0.3},{"t":332,"s":"r","v":0.167},{"t":336,"s":"r","v":0.25},{"t":340,"s":"r","v":0.309},{"t":344,"s":"r","v":0.25},{"t":349,"s":"r","v":0.202},{"t":353,"s":"r","v":0.1},{"t":358,"s":"r","v":-0.011},{"t":362,"s":"r","v":0.0},{"t":366,"s":"r","v":0.025},{"t":371,"s":"r","v":0.2},{"t":375,"s":"r","v":0.309},{"t":380,"s":"r","v":0.1},{"t":384,"s":"r","v":0.06},{"t":387,"s":"r","v":-0.02},{"t":390,"s":"r","v":-0.046},{"t":394,"s":"r","v":0.15},{"t":398,"s":"r","v":0.273},{"t":404,"s":"r","v":0.415},{"t":408,"s":"r","v":0.3},{"t":412,"s":"r","v":0.25},{"t":416,"s":"r","v":0.2},{"t":421,"s":"r","v":0.131},{"t":425,"s":"r","v":0.2},{"t":430,"s":"r","v":0.238},{"t":434,"s":"r","v":0.25},{"t":439,"s":"r","v":0.273},{"t":443,"s":"r","v":0.25},{"t":448,"s":"r","v":0.238},{"t":452,"s":"r","v":0.27},{"t":456,"s":"r","v":0.273},{"t":461,"s":"r","v":0.25},{"t":465,"s":"r","v":0.202},{"t":469,"s":"r","v":0.15},{"t":474,"s":"r","v":0.025},{"t":478,"s":"r","v":0.06},{"t":483,"s":"r","v":0.2},{"t":488,"s":"r","v":0.309},{"t":492,"s":"r","v":0.28},{"t":497,"s":"r","v":0.273},{"t":501,"s":"r","v":0.15},{"t":505,"s":"r","v":0.096},{"t":510,"s":"r","v":0.2},{"t":514,"s":"r","v":0.309},{"t":519,"s":"r","v":0.25},{"t":523,"s":"r","v":0.202},{"t":527,"s":"r","v":0.3},{"t":532,"s":"r","v":0.344},{"t":536,"s":"r","v":0.28},{"t":540,"s":"r","v":0.238},{"t":544,"s":"r","v":0.1},{"t":546,"s":"r","v":0.025},{"t":549,"s":"r","v":0.2},{"t":552,"s":"r","v":0.344},{"t":556,"s":"r","v":0.3},{"t":561,"s":"r","v":0.096},{"t":565,"s":"r","v":-0.05},{"t":569,"s":"r","v":-0.223},{"t":574,"s":"r","v":-0.3},{"t":578,"s":"r","v":-0.33},{"t":583,"s":"r","v":-0.3},{"t":587,"s":"r","v":-0.294},{"t":592,"s":"r","v":-0.36},{"t":597,"s":"r","v":-0.4},{"t":601,"s":"r","v":-0.507},{"t":606,"s":"r","v":-0.45},{"t":610,"s":"r","v":-0.42},{"t":615,"s":"r","v":-0.45},{"t":619,"s":"r","v":-0.436},{"t":624,"s":"r","v":-0.33},{"t":628,"s":"r","v":-0.45},{"t":633,"s":"r","v":-0.613},{"t":637,"s":"r","v":-0.65},{"t":642,"s":"r","v":-0.72},{"t":646,"s":"r","v":-0.68},{"t":650,"s":"r","v":-0.613},{"t":655,"s":"r","v":-0.5},{"t":659,"s":"r","v":-0.436},{"t":663,"s":"r","v":-0.4},{"t":668,"s":"r","v":-0.33},{"t":672,"s":"r","v":-0.4},{"t":677,"s":"r","v":-0.507},{"t":681,"s":"r","v":-0.55},{"t":685,"s":"r","v":-0.613},{"t":690,"s":"r","v":-0.7},{"t":694,"s":"r","v":-0.79},{"t":699,"s":"r","v":-0.7},{"t":703,"s":"r","v":-0.613},{"t":707,"s":"r","v":-0.58},{"t":711,"s":"r","v":-0.578},{"t":716,"s":"r","v":-0.55},{"t":720,"s":"r","v":-0.507},{"t":724,"s":"r","v":-0.6},{"t":729,"s":"r","v":-0.649},{"t":733,"s":"r","v":-0.55},{"t":737,"s":"r","v":-0.436},{"t":740,"s":"r","v":-0.3},{"t":743,"s":"r","v":-0.188},{"t":746,"s":"r","v":-0.12},{"t":749,"s":"r","v":-0.082},{"t":752,"s":"r","v":-0.2},{"t":755,"s":"r","v":-0.294},{"t":760,"s":"r","v":-0.25},{"t":765,"s":"r","v":-0.3},{"t":770,"s":"r","v":-0.33},{"t":775,"s":"r","v":-0.4},{"t":781,"s":"r","v":-0.507},{"t":786,"s":"r","v":-0.6},{"t":790,"s":"r","v":-0.649},{"t":793,"s":"r","v":-0.55},{"t":795,"s":"r","v":-0.436},{"t":800,"s":"r","v":-0.4},
{"t":0,"s":"k","v":0.66},{"t":4,"s":"k","v":0.2},{"t":7,"s":"k","v":0.45},{"t":10,"s":"k","v":0.5},{"t":14,"s":"k","v":0.45},{"t":19,"s":"k","v":0.47},{"t":23,"s":"k","v":0.44},{"t":27,"s":"k","v":0.52},{"t":31,"s":"k","v":0.45},{"t":35,"s":"k","v":0.5},{"t":39,"s":"k","v":0.73},{"t":42,"s":"k","v":0.55},{"t":45,"s":"k","v":0.47},{"t":50,"s":"k","v":0.52},{"t":55,"s":"k","v":0.4},{"t":59,"s":"k","v":0.27},{"t":63,"s":"k","v":0.45},{"t":68,"s":"k","v":0.66},{"t":71,"s":"k","v":0.5},{"t":74,"s":"k","v":0.34},{"t":79,"s":"k","v":0.557},{"t":82,"s":"k","v":0.4},{"t":85,"s":"k","v":0.31},{"t":90,"s":"k","v":0.5},{"t":94,"s":"k","v":0.66},{"t":97,"s":"k","v":0.55},{"t":100,"s":"k","v":0.415},{"t":106,"s":"k","v":0.31},{"t":111,"s":"k","v":0.4},{"t":116,"s":"k","v":0.45},{"t":120,"s":"k","v":0.38},{"t":123,"s":"k","v":0.38},{"t":129,"s":"k","v":0.592},{"t":132,"s":"k","v":0.45},{"t":134,"s":"k","v":0.31},{"t":137,"s":"k","v":0.45},{"t":140,"s":"k","v":0.63},{"t":145,"s":"k","v":0.5},{"t":149,"s":"k","v":0.38},{"t":155,"s":"k","v":0.557},{"t":160,"s":"k","v":0.45},{"t":166,"s":"k","v":0.45},{"t":172,"s":"k","v":0.45},{"t":177,"s":"k","v":0.55},{"t":181,"s":"k","v":0.592},{"t":186,"s":"k","v":0.52},{"t":190,"s":"k","v":0.521},{"t":196,"s":"k","v":0.45},{"t":201,"s":"k","v":0.48},{"t":207,"s":"k","v":0.486},{"t":212,"s":"k","v":0.43},{"t":216,"s":"k","v":0.38},{"t":221,"s":"k","v":0.45},{"t":226,"s":"k","v":0.47},{"t":233,"s":"k","v":0.521},{"t":239,"s":"k","v":0.45},{"t":245,"s":"k","v":0.27},{"t":250,"s":"k","v":0.7},{"t":255,"s":"k","v":0.6},{"t":259,"s":"k","v":0.699},{"t":265,"s":"k","v":0.805},{"t":268,"s":"k","v":0.6},{"t":271,"s":"k","v":0.45},{"t":276,"s":"k","v":0.6},{"t":282,"s":"k","v":0.876},{"t":285,"s":"k","v":0.95},{"t":288,"s":"k","v":1.018},{"t":294,"s":"k","v":1.053},{"t":297,"s":"k","v":0.95},{"t":300,"s":"k","v":0.876},{"t":305,"s":"k","v":0.77},{"t":308,"s":"k","v":0.8},{"t":311,"s":"k","v":0.876},{"t":314,"s":"k","v":0.75},{"t":317,"s":"k","v":0.628},{"t":322,"s":"k","v":0.7},{"t":326,"s":"k","v":0.77},{"t":330,"s":"k","v":0.7},{"t":334,"s":"k","v":0.628},{"t":339,"s":"k","v":0.58},{"t":343,"s":"k","v":0.521},{"t":348,"s":"k","v":0.45},{"t":352,"s":"k","v":0.38},{"t":355,"s":"k","v":0.55},{"t":358,"s":"k","v":0.699},{"t":362,"s":"k","v":0.8},{"t":366,"s":"k","v":0.876},{"t":370,"s":"k","v":0.91},{"t":375,"s":"k","v":0.947},{"t":380,"s":"k","v":0.93},{"t":384,"s":"k","v":0.95},{"t":388,"s":"k","v":0.93},{"t":392,"s":"k","v":0.982},{"t":396,"s":"k","v":0.95},{"t":401,"s":"k","v":0.911},{"t":405,"s":"k","v":0.96},{"t":407,"s":"k","v":1.0},{"t":410,"s":"k","v":0.92},{"t":416,"s":"k","v":0.876},{"t":421,"s":"k","v":0.84},{"t":425,"s":"k","v":0.8},{"t":430,"s":"k","v":0.77},{"t":434,"s":"k","v":0.7},{"t":439,"s":"k","v":0.557},{"t":443,"s":"k","v":0.6},{"t":448,"s":"k","v":0.628},{"t":452,"s":"k","v":0.75},{"t":456,"s":"k","v":0.805},{"t":462,"s":"k","v":0.77},{"t":466,"s":"k","v":0.8},{"t":470,"s":"k","v":0.84},{"t":474,"s":"k","v":0.911},{"t":478,"s":"k","v":0.85},{"t":482,"s":"k","v":0.77},{"t":486,"s":"k","v":0.82},{"t":491,"s":"k","v":0.876},{"t":495,"s":"k","v":0.8},{"t":500,"s":"k","v":0.699},{"t":505,"s":"k","v":0.947},{"t":509,"s":"k","v":0.85},{"t":514,"s":"k","v":0.77},{"t":518,"s":"k","v":0.8},{"t":523,"s":"k","v":0.84},{"t":527,"s":"k","v":0.75},{"t":532,"s":"k","v":0.699},{"t":536,"s":"k","v":0.78},{"t":540,"s":"k","v":0.805},{"t":545,"s":"k","v":0.76},{"t":549,"s":"k","v":0.734},{"t":553,"s":"k","v":0.78},{"t":558,"s":"k","v":0.77},{"t":562,"s":"k","v":0.6},{"t":566,"s":"k","v":0.45},{"t":569,"s":"k","v":0.35},{"t":572,"s":"k","v":0.273},{"t":576,"s":"k","v":0.4},{"t":581,"s":"k","v":0.557},{"t":584,"s":"k","v":0.7},{"t":587,"s":"k","v":0.77},{"t":590,"s":"k","v":0.6},{"t":592,"s":"k","v":0.45},{"t":595,"s":"k","v":0.36},{"t":598,"s":"k","v":0.309},{"t":603,"s":"k","v":0.4},{"t":607,"s":"k","v":0.486},{"t":612,"s":"k","v":0.6},{"t":616,"s":"k","v":0.734},{"t":620,"s":"k","v":0.6},{"t":624,"s":"k","v":0.45},{"t":629,"s":"k","v":0.34},{"t":633,"s":"k","v":0.273},{"t":638,"s":"k","v":0.2},{"t":642,"s":"k","v":0.167},{"t":646,"s":"k","v":0.25},{"t":650,"s":"k","v":0.344},{"t":655,"s":"k","v":0.55},{"t":659,"s":"k","v":0.699},{"t":664,"s":"k","v":0.6},{"t":668,"s":"k","v":0.521},{"t":672,"s":"k","v":0.65},{"t":677,"s":"k","v":0.77},{"t":681,"s":"k","v":0.7},{"t":685,"s":"k","v":0.628},{"t":690,"s":"k","v":0.65},{"t":694,"s":"k","v":0.699},{"t":699,"s":"k","v":0.55},{"t":703,"s":"k","v":0.45},{"t":707,"s":"k","v":0.5},{"t":711,"s":"k","v":0.557},{"t":714,"s":"k","v":0.7},{"t":717,"s":"k","v":0.77},{"t":721,"s":"k","v":0.6},{"t":726,"s":"k","v":0.45},{"t":730,"s":"k","v":0.55},{"t":734,"s":"k","v":0.628},{"t":739,"s":"k","v":0.5},{"t":743,"s":"k","v":0.45},{"t":747,"s":"k","v":0.52},{"t":752,"s":"k","v":0.557},{"t":756,"s":"k","v":0.6},{"t":760,"s":"k","v":0.628},{"t":765,"s":"k","v":0.55},{"t":770,"s":"k","v":0.52},{"t":774,"s":"k","v":0.5},{"t":778,"s":"k","v":0.415},{"t":783,"s":"k","v":0.35},{"t":787,"s":"k","v":0.309},{"t":791,"s":"k","v":0.38},{"t":795,"s":"k","v":0.415},{"t":798,"s":"k","v":0.5},{"t":800,"s":"k","v":0.6}
],
"D":[
{"t":0,"s":"b","v":-0.35},{"t":2,"s":"b","v":-0.2},{"t":3,"s":"b","v":-0.23},{"t":5,"s":"b","v":-0.37},{"t":8,"s":"b","v":-0.55},{"t":10,"s":"b","v":-0.66},{"t":13,"s":"b","v":-0.75},{"t":16,"s":"b","v":-0.77},{"t":18,"s":"b","v":-0.82},{"t":21,"s":"b","v":-0.83},{"t":25,"s":"b","v":-0.8},{"t":30,"s":"b","v":-0.77},{"t":33,"s":"b","v":-0.67},{"t":36,"s":"b","v":-0.66},{"t":39,"s":"b","v":-0.7},{"t":42,"s":"b","v":-0.72},{"t":44,"s":"b","v":-0.9},{"t":45,"s":"b","v":-1.0},{"t":47,"s":"b","v":-0.85},{"t":50,"s":"b","v":-0.54},{"t":53,"s":"b","v":-0.4},{"t":56,"s":"b","v":-0.32},{"t":60,"s":"b","v":-0.35},{"t":64,"s":"b","v":-0.42},{"t":68,"s":"b","v":-0.46},{"t":72,"s":"b","v":-0.5},{"t":77,"s":"b","v":-0.49},{"t":81,"s":"b","v":-0.52},{"t":85,"s":"b","v":-0.52},{"t":90,"s":"b","v":-0.55},{"t":94,"s":"b","v":-0.54},{"t":97,"s":"b","v":-0.6},{"t":100,"s":"b","v":-0.66},{"t":103,"s":"b","v":-0.75},{"t":106,"s":"b","v":-0.88},{"t":109,"s":"b","v":-0.98},{"t":111,"s":"b","v":-1.0},{"t":113,"s":"b","v":-0.7},{"t":115,"s":"b","v":-0.23},{"t":118,"s":"b","v":-0.4},{"t":120,"s":"b","v":-0.49},{"t":123,"s":"b","v":-0.6},{"t":126,"s":"b","v":-0.7},{"t":129,"s":"b","v":-0.85},{"t":132,"s":"b","v":-0.85},{"t":135,"s":"b","v":-0.82},{"t":137,"s":"b","v":-0.77},{"t":140,"s":"b","v":-0.5},{"t":143,"s":"b","v":-0.3},{"t":146,"s":"b","v":-0.25},{"t":149,"s":"b","v":-0.26},{"t":152,"s":"b","v":-0.35},{"t":155,"s":"b","v":-0.37},{"t":159,"s":"b","v":-0.5},{"t":163,"s":"b","v":-0.63},{"t":166,"s":"b","v":-0.45},{"t":169,"s":"b","v":-0.32},{"t":174,"s":"b","v":-0.3},{"t":178,"s":"b","v":-0.29},{"t":183,"s":"b","v":-0.35},{"t":187,"s":"b","v":-0.4},{"t":191,"s":"b","v":-0.37},{"t":195,"s":"b","v":-0.35},{"t":198,"s":"b","v":-0.45},{"t":201,"s":"b","v":-0.6},{"t":204,"s":"b","v":-0.45},{"t":210,"s":"b","v":-0.35},{"t":215,"s":"b","v":-0.32},{"t":219,"s":"b","v":-0.32},{"t":225,"s":"b","v":-0.34},{"t":230,"s":"b","v":-0.35},{"t":236,"s":"b","v":-0.3},{"t":240,"s":"b","v":-0.2},{"t":245,"s":"b","v":-0.06},{"t":250,"s":"b","v":-0.1},{"t":255,"s":"b","v":-0.12},{"t":259,"s":"b","v":-0.05},{"t":265,"s":"b","v":-0.09},{"t":268,"s":"b","v":-0.2},{"t":271,"s":"b","v":-0.26},{"t":275,"s":"b","v":-0.2},{"t":279,"s":"b","v":-0.2},{"t":282,"s":"b","v":-0.4},{"t":285,"s":"b","v":-0.69},{"t":288,"s":"b","v":-0.45},{"t":291,"s":"b","v":-0.37},{"t":296,"s":"b","v":-0.35},{"t":300,"s":"b","v":-0.35},{"t":304,"s":"b","v":-0.28},{"t":308,"s":"b","v":-0.23},{"t":313,"s":"b","v":-0.2},{"t":317,"s":"b","v":-0.22},{"t":321,"s":"b","v":-0.2},{"t":326,"s":"b","v":-0.23},{"t":330,"s":"b","v":-0.2},{"t":334,"s":"b","v":-0.2},{"t":338,"s":"b","v":-0.32},{"t":343,"s":"b","v":-0.4},{"t":348,"s":"b","v":-0.42},{"t":352,"s":"b","v":-0.42},{"t":357,"s":"b","v":-0.44},{"t":363,"s":"b","v":-0.46},{"t":368,"s":"b","v":-0.4},{"t":375,"s":"b","v":-0.37},{"t":380,"s":"b","v":-0.4},{"t":386,"s":"b","v":-0.32},{"t":392,"s":"b","v":-0.26},{"t":395,"s":"b","v":-0.15},{"t":398,"s":"b","v":-0.12},{"t":401,"s":"b","v":-0.24},{"t":406,"s":"b","v":-0.35},{"t":413,"s":"b","v":-0.4},{"t":418,"s":"b","v":-0.45},{"t":424,"s":"b","v":-0.49},{"t":430,"s":"b","v":-0.44},{"t":436,"s":"b","v":-0.43},{"t":442,"s":"b","v":-0.44},{"t":447,"s":"b","v":-0.45},{"t":451,"s":"b","v":-0.46},{"t":456,"s":"b","v":-0.46},{"t":460,"s":"b","v":-0.35},{"t":465,"s":"b","v":-0.29},{"t":468,"s":"b","v":-0.2},{"t":471,"s":"b","v":-0.15},{"t":475,"s":"b","v":-0.16},{"t":479,"s":"b","v":-0.18},{"t":482,"s":"b","v":-0.45},{"t":485,"s":"b","v":-0.52},{"t":488,"s":"b","v":-0.4},{"t":491,"s":"b","v":-0.37},{"t":497,"s":"b","v":-0.37},{"t":503,"s":"b","v":-0.35},{"t":508,"s":"b","v":-0.37},{"t":514,"s":"b","v":-0.4},{"t":520,"s":"b","v":-0.43},{"t":525,"s":"b","v":-0.45},{"t":529,"s":"b","v":-0.49},{"t":535,"s":"b","v":-0.44},{"t":540,"s":"b","v":-0.43},{"t":546,"s":"b","v":-0.38},{"t":552,"s":"b","v":-0.35},{"t":555,"s":"b","v":-0.33},{"t":558,"s":"b","v":-0.32},{"t":562,"s":"b","v":-0.45},{"t":566,"s":"b","v":-0.55},{"t":569,"s":"b","v":-0.2},{"t":572,"s":"b","v":-0.18},{"t":575,"s":"b","v":-0.4},{"t":578,"s":"b","v":-0.6},{"t":581,"s":"b","v":-0.63},{"t":584,"s":"b","v":-0.7},{"t":587,"s":"b","v":-0.72},{"t":590,"s":"b","v":-0.65},{"t":595,"s":"b","v":-0.6},{"t":600,"s":"b","v":-0.55},{"t":604,"s":"b","v":-0.54},{"t":609,"s":"b","v":-0.5},{"t":613,"s":"b","v":-0.49},{"t":617,"s":"b","v":-0.42},{"t":621,"s":"b","v":-0.37},{"t":624,"s":"b","v":-0.55},{"t":627,"s":"b","v":-0.69},{"t":630,"s":"b","v":-0.45},{"t":633,"s":"b","v":-0.43},{"t":637,"s":"b","v":-0.5},{"t":642,"s":"b","v":-0.52},{"t":646,"s":"b","v":-0.65},{"t":650,"s":"b","v":-0.74},{"t":655,"s":"b","v":-0.5},{"t":659,"s":"b","v":-0.43},{"t":663,"s":"b","v":-0.48},{"t":668,"s":"b","v":-0.49},{"t":672,"s":"b","v":-0.65},{"t":677,"s":"b","v":-0.86},{"t":680,"s":"b","v":-0.6},{"t":682,"s":"b","v":-0.18},{"t":686,"s":"b","v":-0.3},{"t":691,"s":"b","v":-0.43},{"t":696,"s":"b","v":-0.5},{"t":700,"s":"b","v":-0.54},{"t":704,"s":"b","v":-0.3},{"t":708,"s":"b","v":-0.18},{"t":712,"s":"b","v":-0.2},{"t":717,"s":"b","v":-0.2},{"t":722,"s":"b","v":-0.25},{"t":726,"s":"b","v":-0.26},{"t":730,"s":"b","v":-0.1},{"t":734,"s":"b","v":-0.06},{"t":737,"s":"b","v":-0.3},{"t":740,"s":"b","v":-0.46},{"t":743,"s":"b","v":-0.4},{"t":746,"s":"b","v":-0.37},{"t":751,"s":"b","v":-0.4},{"t":755,"s":"b","v":-0.4},{"t":760,"s":"b","v":-0.43},{"t":765,"s":"b","v":-0.44},{"t":770,"s":"b","v":-0.46},{"t":774,"s":"b","v":-0.5},{"t":778,"s":"b","v":-0.66},{"t":781,"s":"b","v":-0.75},{"t":784,"s":"b","v":-0.83},{"t":787,"s":"b","v":-0.88},{"t":790,"s":"b","v":-0.89},{"t":793,"s":"b","v":-0.83},{"t":795,"s":"b","v":-0.74},{"t":798,"s":"b","v":-0.6},{"t":800,"s":"b","v":-0.6},
{"t":0,"s":"r","v":-0.2},{"t":3,"s":"r","v":-0.15},{"t":8,"s":"r","v":-0.14},{"t":12,"s":"r","v":-0.17},{"t":16,"s":"r","v":-0.23},{"t":20,"s":"r","v":-0.28},{"t":24,"s":"r","v":-0.32},{"t":28,"s":"r","v":-0.4},{"t":33,"s":"r","v":-0.46},{"t":37,"s":"r","v":-0.45},{"t":39,"s":"r","v":-0.4},{"t":44,"s":"r","v":-0.36},{"t":48,"s":"r","v":-0.35},{"t":52,"s":"r","v":-0.3},{"t":56,"s":"r","v":-0.2},{"t":60,"s":"r","v":-0.3},{"t":64,"s":"r","v":-0.33},{"t":68,"s":"r","v":-0.23},{"t":73,"s":"r","v":-0.28},{"t":77,"s":"r","v":-0.25},{"t":79,"s":"r","v":-0.29},{"t":83,"s":"r","v":-0.23},{"t":88,"s":"r","v":-0.3},{"t":94,"s":"r","v":-0.35},{"t":97,"s":"r","v":-0.4},{"t":100,"s":"r","v":-0.54},{"t":102,"s":"r","v":-0.35},{"t":106,"s":"r","v":-0.23},{"t":110,"s":"r","v":-0.17},{"t":114,"s":"r","v":-0.15},{"t":118,"s":"r","v":-0.2},{"t":123,"s":"r","v":-0.23},{"t":128,"s":"r","v":-0.2},{"t":132,"s":"r","v":-0.3},{"t":136,"s":"r","v":-0.4},{"t":140,"s":"r","v":-0.43},{"t":145,"s":"r","v":-0.35},{"t":149,"s":"r","v":-0.32},{"t":153,"s":"r","v":-0.33},{"t":158,"s":"r","v":-0.38},{"t":162,"s":"r","v":-0.3},{"t":166,"s":"r","v":-0.23},{"t":171,"s":"r","v":-0.27},{"t":175,"s":"r","v":-0.26},{"t":180,"s":"r","v":-0.25},{"t":184,"s":"r","v":-0.2},{"t":188,"s":"r","v":-0.12},{"t":192,"s":"r","v":-0.09},{"t":196,"s":"r","v":-0.15},{"t":200,"s":"r","v":-0.17},{"t":204,"s":"r","v":-0.15},{"t":207,"s":"r","v":-0.15},{"t":211,"s":"r","v":-0.2},{"t":216,"s":"r","v":-0.23},{"t":220,"s":"r","v":-0.2},{"t":224,"s":"r","v":-0.15},{"t":229,"s":"r","v":-0.2},{"t":233,"s":"r","v":-0.29},{"t":238,"s":"r","v":-0.2},{"t":245,"s":"r","v":-0.12},{"t":250,"s":"r","v":-0.2},{"t":254,"s":"r","v":-0.1},{"t":259,"s":"r","v":0.02},{"t":262,"s":"r","v":0.07},{"t":265,"s":"r","v":0.11},{"t":270,"s":"r","v":0.2},{"t":274,"s":"r","v":0.28},{"t":279,"s":"r","v":0.25},{"t":283,"s":"r","v":0.2},{"t":288,"s":"r","v":0.16},{"t":291,"s":"r","v":0.28},{"t":294,"s":"r","v":0.33},{"t":298,"s":"r","v":0.25},{"t":303,"s":"r","v":0.25},{"t":308,"s":"r","v":0.2},{"t":312,"s":"r","v":0.22},{"t":317,"s":"r","v":0.18},{"t":320,"s":"r","v":0.25},{"t":325,"s":"r","v":0.2},{"t":329,"s":"r","v":0.16},{"t":333,"s":"r","v":0.1},{"t":337,"s":"r","v":0.11},{"t":342,"s":"r","v":0.2},{"t":346,"s":"r","v":0.25},{"t":350,"s":"r","v":0.18},{"t":355,"s":"r","v":0.16},{"t":358,"s":"r","v":0.05},{"t":361,"s":"r","v":-0.03},{"t":365,"s":"r","v":-0.02},{"t":369,"s":"r","v":0.02},{"t":374,"s":"r","v":0.15},{"t":378,"s":"r","v":0.25},{"t":381,"s":"r","v":0.12},{"t":384,"s":"r","v":0.0},{"t":388,"s":"r","v":-0.03},{"t":392,"s":"r","v":-0.01},{"t":395,"s":"r","v":0.15},{"t":398,"s":"r","v":0.3},{"t":401,"s":"r","v":0.24},{"t":404,"s":"r","v":0.25},{"t":409,"s":"r","v":0.15},{"t":413,"s":"r","v":0.11},{"t":417,"s":"r","v":0.1},{"t":421,"s":"r","v":0.08},{"t":425,"s":"r","v":0.15},{"t":430,"s":"r","v":0.17},{"t":436,"s":"r","v":0.18},{"t":442,"s":"r","v":0.18},{"t":448,"s":"r","v":0.17},{"t":453,"s":"r","v":0.17},{"t":459,"s":"r","v":0.16},{"t":465,"s":"r","v":0.17},{"t":470,"s":"r","v":0.15},{"t":474,"s":"r","v":0.14},{"t":477,"s":"r","v":0.05},{"t":479,"s":"r","v":0.02},{"t":483,"s":"r","v":0.15},{"t":488,"s":"r","v":0.22},{"t":492,"s":"r","v":0.18},{"t":497,"s":"r","v":0.16},{"t":501,"s":"r","v":0.2},{"t":506,"s":"r","v":0.25},{"t":510,"s":"r","v":0.12},{"t":514,"s":"r","v":0.11},{"t":518,"s":"r","v":0.2},{"t":523,"s":"r","v":0.28},{"t":527,"s":"r","v":0.2},{"t":532,"s":"r","v":0.19},{"t":536,"s":"r","v":0.15},{"t":540,"s":"r","v":0.14},{"t":544,"s":"r","v":0.05},{"t":546,"s":"r","v":-0.01},{"t":550,"s":"r","v":0.2},{"t":555,"s":"r","v":0.28},{"t":558,"s":"r","v":0.15},{"t":561,"s":"r","v":0.14},{"t":564,"s":"r","v":0.05},{"t":566,"s":"r","v":0.02},{"t":569,"s":"r","v":-0.08},{"t":572,"s":"r","v":-0.15},{"t":577,"s":"r","v":-0.25},{"t":581,"s":"r","v":-0.23},{"t":585,"s":"r","v":-0.28},{"t":587,"s":"r","v":-0.29},{"t":591,"s":"r","v":-0.23},{"t":595,"s":"r","v":-0.23},{"t":600,"s":"r","v":-0.3},{"t":604,"s":"r","v":-0.29},{"t":608,"s":"r","v":-0.22},{"t":613,"s":"r","v":-0.26},{"t":617,"s":"r","v":-0.3},{"t":621,"s":"r","v":-0.32},{"t":624,"s":"r","v":-0.4},{"t":627,"s":"r","v":-0.43},{"t":630,"s":"r","v":-0.42},{"t":633,"s":"r","v":-0.49},{"t":637,"s":"r","v":-0.47},{"t":642,"s":"r","v":-0.4},{"t":646,"s":"r","v":-0.45},{"t":650,"s":"r","v":-0.49},{"t":655,"s":"r","v":-0.45},{"t":659,"s":"r","v":-0.37},{"t":664,"s":"r","v":-0.25},{"t":668,"s":"r","v":-0.23},{"t":672,"s":"r","v":-0.25},{"t":677,"s":"r","v":-0.29},{"t":681,"s":"r","v":-0.35},{"t":685,"s":"r","v":-0.46},{"t":690,"s":"r","v":-0.5},{"t":694,"s":"r","v":-0.54},{"t":698,"s":"r","v":-0.55},{"t":703,"s":"r","v":-0.57},{"t":707,"s":"r","v":-0.6},{"t":711,"s":"r","v":-0.6},{"t":716,"s":"r","v":-0.58},{"t":720,"s":"r","v":-0.57},{"t":724,"s":"r","v":-0.55},{"t":729,"s":"r","v":-0.49},{"t":733,"s":"r","v":-0.4},{"t":737,"s":"r","v":-0.26},{"t":740,"s":"r","v":-0.15},{"t":743,"s":"r","v":-0.09},{"t":746,"s":"r","v":-0.1},{"t":749,"s":"r","v":-0.06},{"t":752,"s":"r","v":-0.13},{"t":755,"s":"r","v":-0.2},{"t":759,"s":"r","v":-0.22},{"t":763,"s":"r","v":-0.23},{"t":768,"s":"r","v":-0.25},{"t":772,"s":"r","v":-0.26},{"t":777,"s":"r","v":-0.3},{"t":781,"s":"r","v":-0.32},{"t":786,"s":"r","v":-0.33},{"t":790,"s":"r","v":-0.35},{"t":795,"s":"r","v":-0.37},{"t":800,"s":"r","v":-0.37},
{"t":0,"s":"k","v":0.31},{"t":2,"s":"k","v":0.2},{"t":4,"s":"k","v":0.14},{"t":7,"s":"k","v":0.35},{"t":10,"s":"k","v":0.42},{"t":13,"s":"k","v":0.3},{"t":16,"s":"k","v":0.25},{"t":19,"s":"k","v":0.38},{"t":21,"s":"k","v":0.42},{"t":26,"s":"k","v":0.39},{"t":30,"s":"k","v":0.4},{"t":35,"s":"k","v":0.45},{"t":39,"s":"k","v":0.45},{"t":44,"s":"k","v":0.41},{"t":48,"s":"k","v":0.39},{"t":53,"s":"k","v":0.48},{"t":56,"s":"k","v":0.3},{"t":59,"s":"k","v":0.14},{"t":62,"s":"k","v":0.4},{"t":66,"s":"k","v":0.45},{"t":68,"s":"k","v":0.48},{"t":73,"s":"k","v":0.4},{"t":77,"s":"k","v":0.36},{"t":81,"s":"k","v":0.4},{"t":85,"s":"k","v":0.39},{"t":90,"s":"k","v":0.43},{"t":94,"s":"k","v":0.48},{"t":97,"s":"k","v":0.5},{"t":100,"s":"k","v":0.45},{"t":103,"s":"k","v":0.36},{"t":106,"s":"k","v":0.33},{"t":110,"s":"k","v":0.25},{"t":114,"s":"k","v":0.19},{"t":118,"s":"k","v":0.3},{"t":123,"s":"k","v":0.31},{"t":127,"s":"k","v":0.28},{"t":132,"s":"k","v":0.25},{"t":136,"s":"k","v":0.3},{"t":140,"s":"k","v":0.35},{"t":145,"s":"k","v":0.42},{"t":149,"s":"k","v":0.49},{"t":152,"s":"k","v":0.36},{"t":155,"s":"k","v":0.28},{"t":158,"s":"k","v":0.31},{"t":162,"s":"k","v":0.28},{"t":166,"s":"k","v":0.28},{"t":170,"s":"k","v":0.38},{"t":175,"s":"k","v":0.45},{"t":179,"s":"k","v":0.36},{"t":184,"s":"k","v":0.33},{"t":188,"s":"k","v":0.3},{"t":192,"s":"k","v":0.28},{"t":197,"s":"k","v":0.31},{"t":201,"s":"k","v":0.31},{"t":206,"s":"k","v":0.28},{"t":210,"s":"k","v":0.25},{"t":213,"s":"k","v":0.2},{"t":216,"s":"k","v":0.18},{"t":220,"s":"k","v":0.25},{"t":224,"s":"k","v":0.31},{"t":229,"s":"k","v":0.35},{"t":233,"s":"k","v":0.39},{"t":238,"s":"k","v":0.3},{"t":241,"s":"k","v":0.1},{"t":245,"s":"k","v":0.08},{"t":248,"s":"k","v":0.25},{"t":250,"s":"k","v":0.42},{"t":255,"s":"k","v":0.35},{"t":259,"s":"k","v":0.39},{"t":262,"s":"k","v":0.3},{"t":265,"s":"k","v":0.28},{"t":270,"s":"k","v":0.35},{"t":274,"s":"k","v":0.39},{"t":277,"s":"k","v":0.55},{"t":279,"s":"k","v":0.65},{"t":282,"s":"k","v":0.75},{"t":285,"s":"k","v":0.82},{"t":288,"s":"k","v":0.76},{"t":291,"s":"k","v":0.72},{"t":294,"s":"k","v":0.5},{"t":297,"s":"k","v":0.39},{"t":300,"s":"k","v":0.5},{"t":303,"s":"k","v":0.6},{"t":308,"s":"k","v":0.57},{"t":313,"s":"k","v":0.55},{"t":317,"s":"k","v":0.58},{"t":320,"s":"k","v":0.59},{"t":325,"s":"k","v":0.53},{"t":329,"s":"k","v":0.55},{"t":334,"s":"k","v":0.54},{"t":337,"s":"k","v":0.56},{"t":342,"s":"k","v":0.52},{"t":346,"s":"k","v":0.5},{"t":351,"s":"k","v":0.58},{"t":355,"s":"k","v":0.62},{"t":359,"s":"k","v":0.66},{"t":363,"s":"k","v":0.675},{"t":368,"s":"k","v":0.65},{"t":372,"s":"k","v":0.73},{"t":376,"s":"k","v":0.68},{"t":381,"s":"k","v":0.6},{"t":386,"s":"k","v":0.55},{"t":390,"s":"k","v":0.53},{"t":394,"s":"k","v":0.65},{"t":398,"s":"k","v":0.73},{"t":402,"s":"k","v":0.7},{"t":406,"s":"k","v":0.6},{"t":409,"s":"k","v":0.5},{"t":413,"s":"k","v":0.56},{"t":416,"s":"k","v":0.62},{"t":419,"s":"k","v":0.675},{"t":422,"s":"k","v":0.8},{"t":425,"s":"k","v":0.95},{"t":427,"s":"k","v":0.7},{"t":430,"s":"k","v":0.39},{"t":434,"s":"k","v":0.35},{"t":439,"s":"k","v":0.33},{"t":443,"s":"k","v":0.42},{"t":448,"s":"k","v":0.53},{"t":452,"s":"k","v":0.56},{"t":457,"s":"k","v":0.6},{"t":462,"s":"k","v":0.6},{"t":466,"s":"k","v":0.65},{"t":470,"s":"k","v":0.6},{"t":475,"s":"k","v":0.56},{"t":479,"s":"k","v":0.5},{"t":483,"s":"k","v":0.56},{"t":488,"s":"k","v":0.59},{"t":492,"s":"k","v":0.6},{"t":497,"s":"k","v":0.65},{"t":501,"s":"k","v":0.62},{"t":506,"s":"k","v":0.62},{"t":510,"s":"k","v":0.58},{"t":514,"s":"k","v":0.59},{"t":517,"s":"k","v":0.53},{"t":520,"s":"k","v":0.47},{"t":523,"s":"k","v":0.6},{"t":526,"s":"k","v":0.8},{"t":529,"s":"k","v":0.85},{"t":533,"s":"k","v":0.83},{"t":537,"s":"k","v":0.82},{"t":541,"s":"k","v":0.78},{"t":546,"s":"k","v":0.79},{"t":549,"s":"k","v":0.7},{"t":552,"s":"k","v":0.62},{"t":555,"s":"k","v":0.6},{"t":558,"s":"k","v":0.56},{"t":561,"s":"k","v":0.45},{"t":563,"s":"k","v":0.39},{"t":566,"s":"k","v":0.28},{"t":569,"s":"k","v":0.19},{"t":573,"s":"k","v":0.17},{"t":578,"s":"k","v":0.25},{"t":582,"s":"k","v":0.4},{"t":587,"s":"k","v":0.53},{"t":591,"s":"k","v":0.4},{"t":595,"s":"k","v":0.28},{"t":600,"s":"k","v":0.25},{"t":604,"s":"k","v":0.19},{"t":608,"s":"k","v":0.22},{"t":613,"s":"k","v":0.25},{"t":617,"s":"k","v":0.3},{"t":621,"s":"k","v":0.33},{"t":625,"s":"k","v":0.3},{"t":630,"s":"k","v":0.22},{"t":635,"s":"k","v":0.18},{"t":639,"s":"k","v":0.14},{"t":642,"s":"k","v":0.1},{"t":645,"s":"k","v":0.08},{"t":649,"s":"k","v":0.25},{"t":653,"s":"k","v":0.42},{"t":657,"s":"k","v":0.39},{"t":662,"s":"k","v":0.36},{"t":666,"s":"k","v":0.4},{"t":671,"s":"k","v":0.5},{"t":674,"s":"k","v":0.6},{"t":677,"s":"k","v":0.65},{"t":680,"s":"k","v":0.55},{"t":685,"s":"k","v":0.48},{"t":689,"s":"k","v":0.53},{"t":694,"s":"k","v":0.53},{"t":698,"s":"k","v":0.45},{"t":703,"s":"k","v":0.36},{"t":707,"s":"k","v":0.4},{"t":711,"s":"k","v":0.42},{"t":716,"s":"k","v":0.4},{"t":720,"s":"k","v":0.42},{"t":724,"s":"k","v":0.35},{"t":729,"s":"k","v":0.28},{"t":733,"s":"k","v":0.25},{"t":737,"s":"k","v":0.25},{"t":742,"s":"k","v":0.33},{"t":746,"s":"k","v":0.33},{"t":750,"s":"k","v":0.35},{"t":755,"s":"k","v":0.33},{"t":759,"s":"k","v":0.4},{"t":763,"s":"k","v":0.39},{"t":768,"s":"k","v":0.35},{"t":772,"s":"k","v":0.31},{"t":776,"s":"k","v":0.35},{"t":781,"s":"k","v":0.25},{"t":784,"s":"k","v":0.3},{"t":787,"s":"k","v":0.36},{"t":790,"s":"k","v":0.4},{"t":793,"s":"k","v":0.33},{"t":797,"s":"k","v":0.42},{"t":800,"s":"k","v":0.45}
]
},
"columns":2,
"align":"each",
"spacing":{"row":1,"column":60},
"resolve":{"scale":{"x":"independent","y":"independent","color":"independent"},"axis":{"x":"independent","y":"independent"},"legend":{"color":"independent"}},
"concat":[
{
 "width":461,"height":234,
 "title":{"text":"(a) Coherence","frame":"group","anchor":"middle","dx":16,"dy":-2,"offset":4},
 "layer":[
  {"data":{"name":"bars"},"mark":{"type":"rect","color":"#b3b3b3"},
   "encoding":{"x":{"field":"t","type":"quantitative","scale":{"domain":[0,800],"nice":false,"zero":false}},"x2":{"field":"t2"},
   "y":{"datum":0.7685,"type":"quantitative","scale":{"domain":[0.7,1.05],"nice":false,"zero":false}},"y2":{"datum":0.7895}}},
  {"data":{"values":[{}]},"mark":{"type":"rule","color":"#000","strokeWidth":1.3,"strokeDash":[12,9]},
   "encoding":{"y":{"datum":0.843,"type":"quantitative","scale":{"domain":[0.7,1.05],"nice":false,"zero":false}}}},
  {"data":{"name":"A"},"mark":{"type":"line","strokeWidth":2.5,"clip":true},
   "encoding":{
    "x":{"field":"t","type":"quantitative","scale":{"domain":[0,800],"nice":false,"zero":false},"axis":{"values":[0,200,400,600,800],"labels":false,"title":null,"tickSize":-5,"grid":false}},
    "y":{"field":"v","type":"quantitative","scale":{"domain":[0.7,1.05],"nice":false,"zero":false},"axis":{"values":[0.8,1],"format":"~g","grid":true,"gridDash":[1.5,7],"gridColor":"#000","gridOpacity":0.7,"ticks":false,"domain":false,"title":"γᵢₖ⁽ᵐ⁾(t) [nu]","labelPadding":6,"titlePadding":16}},
    "color":{"field":"s","type":"nominal","scale":{"domain":["b","r","k"],"range":["#0000ff","#ff0000","#000000"]},"legend":null}}},
  {"data":{"name":"V"},"mark":{"type":"rule","color":"#000","strokeWidth":4},
   "encoding":{"x":{"field":"t","type":"quantitative","scale":{"domain":[0,800],"nice":false,"zero":false}}}},
  {"data":{"name":"T"},"mark":{"type":"text","text":"T","font":"Liberation Serif","fontStyle":"italic","fontSize":24,"align":"right","baseline":"alphabetic"},
   "encoding":{"x":{"field":"t","type":"quantitative","scale":{"domain":[0,800],"nice":false,"zero":false}},
   "y":{"datum":1.033,"type":"quantitative","scale":{"domain":[0.7,1.05],"nice":false,"zero":false}}}},
  {"data":{"name":"T"},"mark":{"type":"text","font":"Liberation Serif","fontSize":15,"align":"left","baseline":"alphabetic","dx":1,"dy":5},
   "encoding":{"text":{"field":"lab"},"x":{"field":"t","type":"quantitative","scale":{"domain":[0,800],"nice":false,"zero":false}},
   "y":{"datum":1.033,"type":"quantitative","scale":{"domain":[0.7,1.05],"nice":false,"zero":false}}}}
 ]
},
{
 "width":460,"height":234,
 "title":{"text":"(c) Phase difference","frame":"group","anchor":"middle","dx":51,"offset":5},
 "layer":[
  {"data":{"name":"C"},"mark":{"type":"line","strokeWidth":2.5,"clip":true},
   "encoding":{
    "x":{"field":"t","type":"quantitative","scale":{"domain":[0,800],"nice":false,"zero":false},"axis":{"values":[0,200,400,600,800],"labels":false,"title":null,"tickSize":-5,"grid":false}},
    "y":{"field":"v","type":"quantitative","scale":{"domain":[-1.2,1.3],"nice":false,"zero":false},"axis":{"values":[-1,-0.5,0,0.5,1],"format":"~g","grid":true,"gridDash":[1.5,7],"gridColor":"#000","gridOpacity":0.7,"ticks":false,"domain":false,"title":"θᵢₖ⁽ᵐ⁾(t) [rad]","labelPadding":9,"titlePadding":6}},
    "color":{"field":"s","type":"nominal","scale":{"domain":["b","r","k"],"range":["#0000ff","#ff0000","#000000"]},
     "legend":{"orient":"none","legendX":472,"legendY":100,"title":null,"symbolType":"stroke","symbolSize":600,"symbolStrokeWidth":3,"labelFont":"Liberation Serif","labelFontSize":23,"labelOffset":10,"rowPadding":21,"padding":0,"labelExpr":"datum.value == 'b' ? 'R–S' : datum.value == 'r' ? 'R–H' : 'S–H'"}}}},
  {"data":{"name":"V"},"mark":{"type":"rule","color":"#000","strokeWidth":4},
   "encoding":{"x":{"field":"t","type":"quantitative","scale":{"domain":[0,800],"nice":false,"zero":false}}}},
  {"data":{"name":"T"},"mark":{"type":"text","text":"T","font":"Liberation Serif","fontStyle":"italic","fontSize":24,"align":"right","baseline":"alphabetic"},
   "encoding":{"x":{"field":"t","type":"quantitative","scale":{"domain":[0,800],"nice":false,"zero":false}},
   "y":{"datum":1.14,"type":"quantitative","scale":{"domain":[-1.2,1.3],"nice":false,"zero":false}}}},
  {"data":{"name":"T"},"mark":{"type":"text","font":"Liberation Serif","fontSize":15,"align":"left","baseline":"alphabetic","dx":1,"dy":5},
   "encoding":{"text":{"field":"lab"},"x":{"field":"t","type":"quantitative","scale":{"domain":[0,800],"nice":false,"zero":false}},
   "y":{"datum":1.14,"type":"quantitative","scale":{"domain":[-1.2,1.3],"nice":false,"zero":false}}}}
 ]
},
{
 "width":461,"height":235,
 "title":{"text":"(b) Partial coherence","frame":"group","anchor":"middle","dx":47,"dy":-7,"offset":4},
 "layer":[
  {"data":{"name":"B"},"mark":{"type":"line","strokeWidth":2.5,"clip":true},
   "encoding":{
    "x":{"field":"t","type":"quantitative","scale":{"domain":[0,800],"nice":false,"zero":false},"axis":{"values":[0,200,400,600,800],"title":"Time [s]","titleFontSize":25,"tickSize":-5,"labelPadding":8,"titlePadding":21,"grid":false}},
    "y":{"field":"v","type":"quantitative","scale":{"domain":[0.24,0.82],"nice":false,"zero":false},"axis":{"values":[0.4,0.6,0.8],"format":"~g","grid":true,"gridDash":[1.5,7],"gridColor":"#000","gridOpacity":0.7,"ticks":false,"domain":false,"title":"γᵢₖ/ₖ⁽ᵐ⁾(t) [nu]","labelPadding":6,"titlePadding":16}},
    "color":{"field":"s","type":"nominal","scale":{"domain":["b","r","k"],"range":["#0000ff","#ff0000","#000000"]},"legend":null}}},
  {"data":{"name":"V"},"mark":{"type":"rule","color":"#000","strokeWidth":4},
   "encoding":{"x":{"field":"t","type":"quantitative","scale":{"domain":[0,800],"nice":false,"zero":false}}}}
 ]
},
{
 "width":460,"height":235,
 "title":{"text":"(d) Time delay","frame":"group","anchor":"middle","dx":-12,"offset":3},
 "layer":[
  {"data":{"name":"D"},"mark":{"type":"line","strokeWidth":2.5,"clip":true},
   "encoding":{
    "x":{"field":"t","type":"quantitative","scale":{"domain":[0,800],"nice":false,"zero":false},"axis":{"values":[0,200,400,600,800],"title":"Time [s]","titleFontSize":25,"tickSize":-5,"labelPadding":8,"titlePadding":21,"grid":false}},
    "y":{"field":"v","type":"quantitative","scale":{"domain":[-1,1],"nice":false,"zero":false},"axis":{"values":[-1,-0.5,0,0.5,1],"format":"~g","grid":true,"gridDash":[1.5,7],"gridColor":"#000","gridOpacity":0.7,"ticks":false,"domain":false,"title":"𝒟ᵢₖ⁽ᵐ⁾(t) [s]","labelPadding":9,"titlePadding":6}},
    "color":{"field":"s","type":"nominal","scale":{"domain":["b","r","k"],"range":["#0000ff","#ff0000","#000000"]},
     "legend":{"orient":"none","legendX":472,"legendY":100,"title":null,"symbolType":"stroke","symbolSize":600,"symbolStrokeWidth":3,"labelFont":"Liberation Serif","labelFontSize":23,"labelOffset":10,"rowPadding":21,"padding":0,"labelExpr":"datum.value == 'b' ? 'R–S' : datum.value == 'r' ? 'R–H' : 'S–H'"}}}},
  {"data":{"name":"V"},"mark":{"type":"rule","color":"#000","strokeWidth":4},
   "encoding":{"x":{"field":"t","type":"quantitative","scale":{"domain":[0,800],"nice":false,"zero":false}}}}
 ]
}
]
}
